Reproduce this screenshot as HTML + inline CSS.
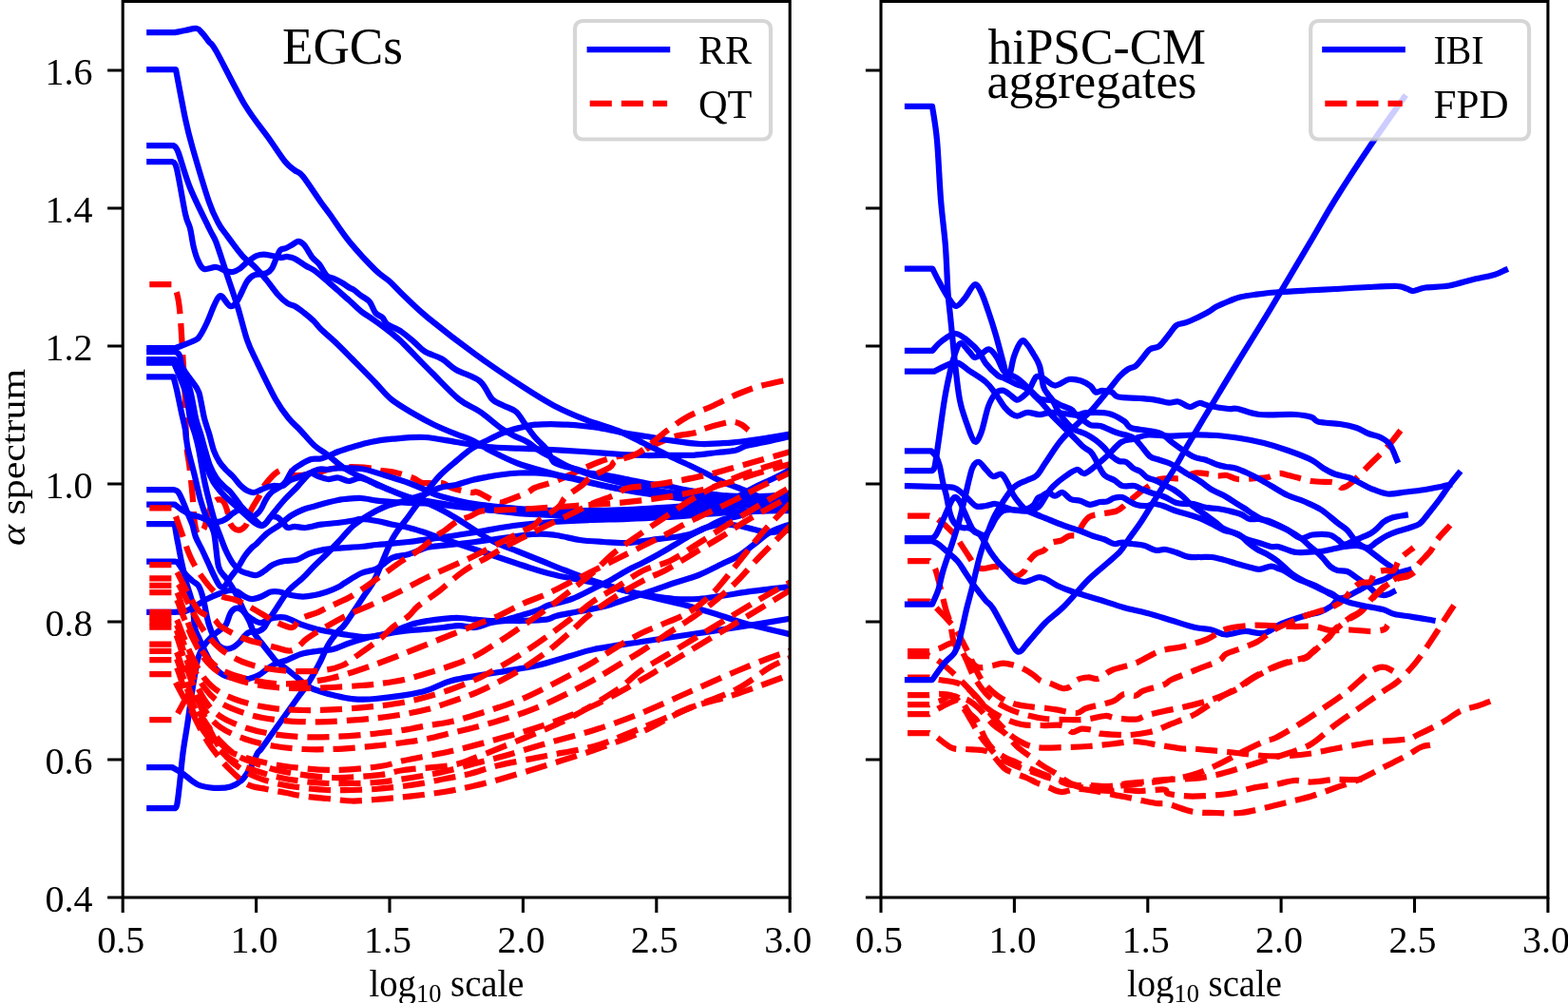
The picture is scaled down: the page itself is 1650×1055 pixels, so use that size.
<!DOCTYPE html>
<html lang="en"><head><meta charset="utf-8"><title>alpha spectrum</title>
<style>html,body{margin:0;padding:0;background:#fff}body{width:1650px;height:1055px;overflow:hidden}svg{display:block}text{font-family:"Liberation Serif","DejaVu Serif",serif;fill:#000}.b{fill:none;stroke:#0000ff;stroke-width:6.25;stroke-linecap:square;stroke-linejoin:round}.r{fill:none;stroke:#ff0000;stroke-width:6.25;stroke-linecap:butt;stroke-linejoin:round;stroke-dasharray:23.1 10}.sp{fill:none;stroke:#000;stroke-width:3.1;stroke-linecap:square;stroke-linejoin:miter}.tk{stroke:#000;stroke-width:3.1;fill:none}</style></head><body>
<svg width="1650" height="1055" viewBox="0 0 1650 1055">
<rect width="1650" height="1055" fill="#fff"/>
<defs>
<clipPath id="clipL"><rect x="129.2" y="1.5" width="702" height="942.5"/></clipPath>
<clipPath id="clipR"><rect x="927" y="1.5" width="701.9" height="942.5"/></clipPath>
</defs>
<g clip-path="url(#clipL)">
<path d="M157.3 299L180.4 299C181.3 300.5 184.5 302.8 186 308C187.5 313.2 188.4 318.4 189.5 330C190.6 341.6 191.6 362.3 192.5 377.5C193.4 392.7 194.4 406.4 195 421C195.6 435.6 195.3 453.9 196 465C196.7 476.1 198.3 482.3 199 487.5C199.7 492.7 199.4 490.6 200 496C200.6 501.4 201.7 510.8 202.5 520C203.3 529.2 203.9 544 205 551C206.1 558 207.3 561.3 209 562C210.7 562.7 213 559.5 215 555C217 550.5 218.9 539.8 221 535C223.1 530.2 225.2 527.2 227.5 526C229.8 524.8 232.9 525.2 235 527.5C237.1 529.8 238.8 536.1 240 540C241.2 543.9 240.8 548.1 242.5 551C244.2 553.9 247.3 557.2 250 557.5C252.7 557.8 256.5 555.8 258.8 552.5C261 549.2 261.5 542.5 263.8 537.5C266 532.5 270 527.1 272.5 522.5C275 517.9 275.4 514.4 278.8 510C282.1 505.6 288.5 498.5 292.5 496C296.5 493.5 299.4 494.3 302.5 495C305.6 495.7 306.4 499.5 311 500C315.6 500.5 322.7 499.3 330 498C337.3 496.7 346.2 493.1 355 492C363.8 490.9 375.2 491.2 383 491.7C390.8 492.2 396.4 494.2 401.7 495C407 495.8 409.4 495.4 415 496.7C420.6 498 430 501.1 435 503C440 504.9 440 507.2 445 508C450 508.8 460 507.2 465 508C470 508.8 470 511.3 475 513C480 514.7 490.3 517.2 495 518C499.7 518.8 498.3 516.3 503 518C507.7 519.7 518 526.5 523 528C528 529.5 527.7 528.4 533 526.7C538.3 525 550 520.3 555 518C560 515.7 558.3 514.9 563 513C567.7 511.1 576 509.4 583 506.7C590 504 597.2 500.4 605 497C612.8 493.6 622.3 488.8 630 486C637.7 483.2 643.9 481.4 651 480C658.1 478.6 667.2 479 672.5 477.5C677.8 476 677.8 473.5 682.5 471C687.2 468.5 696.2 464.5 701 462.5C705.8 460.5 705.8 460 711 458.8C716.2 457.5 727.5 456.3 732.5 455C737.5 453.7 736 452.7 741 451C746 449.3 757.2 446.2 762.5 445C767.8 443.8 769.4 443.4 772.5 443.8C775.6 444.1 778.5 445.5 781 447C783.5 448.5 786.4 451.6 787.5 452.5" class="r"/>
<path d="M157.3 34.2L183.8 34.2C185.6 33.9 191.1 32.7 195 32C198.9 31.3 204 29.5 207 30C210 30.5 210.8 32.7 213 35C215.2 37.3 217.6 40.9 220 44C222.4 47.1 221.2 42.8 227.5 53.8C233.8 64.8 248.3 94.8 257.5 110C266.7 125.2 275.4 135 282.5 145C289.6 155 295.4 164.3 300 170C304.6 175.7 306.9 176.4 310 179C313.1 181.6 314.2 179.9 318.8 185.5C323.3 191.1 332.7 205.8 337.5 212.5C342.3 219.2 342.5 219.1 347.5 226C352.5 232.9 359.6 244.3 367.5 254C375.4 263.7 387.9 277 395 284C402.1 291 405 291.5 410 296C415 300.5 418.3 304.7 425 311C431.7 317.3 437.5 323.8 450 334C462.5 344.2 483.3 360.4 500 372.5C516.7 384.6 536.2 397.7 550 406.7C563.8 415.7 571.9 420.9 583 426.7C594.1 432.5 605.5 437.3 616.7 441.7C627.9 446.1 639.5 448.7 650 453C660.5 457.3 670.8 463 680 467.5C689.2 472 697.2 476.2 705 480C712.8 483.8 720.4 487 726.7 490C733 493 737.5 495.2 743 498C748.5 500.8 754.4 504.2 760 506.7C765.6 509.2 771.2 510.8 776.7 513C782.2 515.2 787.1 517.5 793 520C798.9 522.5 805 525.3 812 528C819 530.7 831.2 534.7 835 536" class="b"/>
<path d="M157.3 73L185 73C186.7 81.7 192.1 111.3 195 125C197.9 138.7 198.3 140.4 202.5 155C206.7 169.6 215.4 199.2 220 212.5C224.6 225.8 227.1 229.4 230 235C232.9 240.6 233.3 240.3 237.5 246C241.7 251.7 250 263.3 255 269C260 274.7 263.3 275.8 267.5 280C271.7 284.2 275.8 289 280 294C284.2 299 288.8 305.8 292.5 310C296.2 314.2 299.4 316.9 302.5 319C305.6 321.1 308.1 320.8 311 322.5C313.9 324.2 316.8 326.5 320 329C323.2 331.5 327.1 334.7 330 337.5C332.9 340.3 333.3 341.9 337.5 346C341.7 350.1 349.6 356.8 355 362C360.4 367.2 363.3 370.2 370 377C376.7 383.8 388.1 395.3 395 402.5C401.9 409.7 405 414.6 411.7 420C418.4 425.4 427.5 430.6 435 435C442.5 439.4 449.2 443.1 456.7 446.7C464.2 450.3 473.3 454 480 456.7C486.7 459.4 490 459.8 496.7 463C503.4 466.2 511.9 471.9 520 476C528 480.1 536.7 484.3 545 487.5C553.3 490.7 562.7 492.9 570 495C577.3 497.1 582.8 498.5 589 500C595.2 501.5 600.2 502.1 607.5 503.8C614.8 505.4 624.2 508.1 632.5 510C640.8 511.9 649.2 513.5 657.5 515C665.8 516.5 674.2 517.5 682.5 518.8C690.8 520 700.2 521.5 707.5 522.5C714.8 523.5 717.2 524.1 726 525C734.8 525.9 747.7 527.5 760 528C772.3 528.5 787.5 528.3 800 528C812.5 527.7 829.2 526.3 835 526" class="b"/>
<path d="M157.3 153L182.5 153C183.3 154.2 184.6 152.6 187.5 160C190.4 167.4 194.6 184.2 200 197.5C205.4 210.8 215.4 230.4 220 240C224.6 249.6 224.6 247.5 227.5 255C230.4 262.5 233.8 273.8 237.5 285C241.2 296.2 246.2 310.4 250 322.5C253.8 334.6 256.7 347.9 260 357.5C263.3 367.1 265 369.6 270 380C275 390.4 284.4 410 290 420C295.6 430 299.4 434.6 303.8 440C308.1 445.4 311.5 447.7 316 452.5C320.5 457.3 326.2 464.4 331 468.8C335.8 473.1 339.7 474.7 345 478.8C350.3 482.8 357.2 489.2 363 493C368.8 496.8 373 498.4 380 501.7C387 505 396.7 509.4 405 513C413.3 516.5 421.7 519.9 430 523C438.3 526.1 446.7 528 455 531.7C463.3 535.4 472.5 540.6 480 545C487.5 549.4 493.3 553.8 500 558C506.7 562.2 512.5 566.3 520 570C527.5 573.7 536.7 576.7 545 580C553.3 583.3 561.7 586.7 570 590C578.3 593.3 585.5 596.4 595 600C604.5 603.6 615.9 608.1 626.7 611.7C637.5 615.3 649 618.7 660 621.7C671 624.8 681.9 627.3 693 630C704.1 632.7 715.5 635 726.7 638C737.9 641 750.3 645 760 648C769.7 651 772.5 652.7 785 656C797.5 659.3 826.7 666 835 668" class="b"/>
<path d="M157.3 170L181 170C181.8 171.2 183.7 168.3 186 177.5C188.3 186.7 192.7 214.6 195 225C197.3 235.4 198.5 234.2 200 240C201.5 245.8 202.3 254.2 203.8 260C205.2 265.8 206.9 271.2 208.8 275C210.6 278.8 211.9 282 215 283C218.1 284 223.8 280.7 227.5 281C231.2 281.3 234.6 284.2 237.5 285C240.4 285.8 242.5 286.4 245 286C247.5 285.6 249.8 284.3 252.5 282.5C255.2 280.7 258.1 277.2 261 275C263.9 272.8 267.2 270.2 270 269C272.8 267.8 274.8 267.5 277.5 267.5C280.2 267.5 283.1 268.4 286 269C288.9 269.6 292.2 270.8 295 271C297.8 271.2 300 269.8 302.5 270C305 270.2 306.7 270.3 310 272C313.3 273.7 319.2 278 322.5 280C325.8 282 326.7 281.7 330 284C333.3 286.3 338.3 290.5 342.5 294C346.7 297.5 350.8 301.3 355 305C359.2 308.7 363.3 312.2 367.5 316C371.7 319.8 375.8 324.2 380 327.5C384.2 330.8 388.3 333.1 392.5 336C396.7 338.9 400.8 341.8 405 345C409.2 348.2 414.2 352.2 417.5 355C420.8 357.8 418.8 355.8 425 362C431.2 368.2 445.3 382.8 455 392.5C464.7 402.2 474.7 413.2 483 420C491.3 426.8 497.7 428 505 433C512.3 438 520.9 445.8 526.7 450C532.5 454.2 535.3 455.5 540 458C544.7 460.5 550.7 462.5 555 465C559.3 467.5 561.8 470.3 566 473C570.2 475.7 574.9 478.2 580 481C585.1 483.8 590 487 596.7 490C603.4 493 611.1 496.2 620 499C628.9 501.8 640 504.5 650 507C660 509.5 667.3 511.7 680 514C692.7 516.3 712.7 519.2 726 521C739.3 522.8 747.7 524.2 760 525C772.3 525.8 787.5 526.3 800 526C812.5 525.7 829.2 523.5 835 523" class="b"/>
<path d="M157.3 366L185 366C188.3 364.7 200.8 360 205 358C209.2 356 207.9 356.8 210 353.8C212.1 350.8 215 345.3 217.5 340C220 334.7 222.9 326.6 225 322C227.1 317.4 228.5 314.2 230 312.5C231.5 310.8 231.7 310.4 233.8 312C235.8 313.6 239.8 321.3 242.5 322C245.2 322.7 247.1 320.3 250 316C252.9 311.7 257.1 300.4 260 296C262.9 291.6 264.2 290.8 267.5 289.4C270.8 288 276.9 288.6 280 287.5C283.1 286.4 284.2 285.2 286 282.5C287.8 279.8 289.5 274.2 291 271C292.5 267.8 293.3 264.7 295 263C296.7 261.3 298.9 261.9 301 261C303.1 260.1 305.4 258.7 307.5 257.5C309.6 256.3 311.7 253.8 313.8 253.8C315.8 253.8 317.5 254.6 320 257.5C322.5 260.4 326.1 267.6 328.8 271C331.4 274.4 333.5 274.8 336 278C338.5 281.2 341.4 287.6 343.8 290C346.1 292.4 347.3 291.2 350 292.5C352.7 293.8 357.1 295.8 360 297.5C362.9 299.2 365.4 301.2 367.5 302.5C369.6 303.8 370.4 303.6 372.5 305C374.6 306.4 377.2 308.9 380 311C382.8 313.1 386.5 314.5 389 317.5C391.5 320.5 392.8 326.2 395 329C397.2 331.8 400.4 332 402.5 334C404.6 336 404.2 338.5 407.5 341C410.8 343.5 417.8 345.8 422.5 349C427.2 352.2 431.8 356.5 436 360C440.2 363.5 442.7 367.1 447.5 370C452.3 372.9 459.6 374.3 465 377.5C470.4 380.7 473.3 385.1 480 389C486.7 392.9 498.7 395.8 505 401C511.3 406.2 513.8 415.7 518 420C522.2 424.3 525.8 424.5 530 426.7C534.2 428.9 539.2 429.7 543 433C546.8 436.3 549.7 442.2 553 446.7C556.3 451.2 559.7 456.1 563 460C566.3 463.9 570.6 467.3 573 470C575.4 472.7 575.9 473.3 577.5 476C579.1 478.7 580 483.7 582.5 486C585 488.3 588.3 488.7 592.5 490C596.7 491.3 602.9 492.5 607.5 493.8C612.1 495 614.8 496.5 620 497.5C625.2 498.5 632.8 499 639 500C645.2 501 650.2 502.3 657.5 503.8C664.8 505.2 675.2 507.5 682.5 508.8C689.8 510 693.8 509.8 701 511C708.2 512.2 716.2 514.3 726 516C735.8 517.7 747.7 520 760 521C772.3 522 787.5 522.2 800 522C812.5 521.8 829.2 520.3 835 520" class="b"/>
<path d="M157.3 370L185 370C185.7 370.7 187.8 371.1 189 374C190.2 376.9 189.4 381.7 192.5 387.5C195.6 393.3 204.4 403.6 207.5 409C210.6 414.4 209.8 414.8 211 420C212.2 425.2 213.5 434 215 440C216.5 446 218.3 450.3 220 456C221.7 461.7 223.2 469 225 474C226.8 479 228.9 482.7 231 486C233.1 489.3 235.2 491.5 237.5 494C239.8 496.5 242.5 498.3 245 501C247.5 503.7 250 507.5 252.5 510C255 512.5 257.5 514.7 260 516C262.5 517.3 265 518.2 267.5 518C270 517.8 272.8 515.9 275 515C277.2 514.1 278.9 513.2 281 512.5C283.1 511.8 284.8 511.2 287.5 511C290.2 510.8 294.8 511.8 297.5 511C300.2 510.2 301.5 507.4 304 506C306.5 504.6 309.4 503.7 312.5 502.5C315.6 501.3 320 499.8 322.5 499C325 498.2 325.4 497.2 327.5 497.5C329.6 497.8 332.1 499.9 335 501C337.9 502.1 341.5 503.8 345 504C348.5 504.2 352.4 502.2 356 502.5C359.6 502.8 362.7 505.9 366.7 506C370.7 506.1 375 502.3 380 503C385 503.7 391.2 507.7 396.7 510C402.2 512.3 407.4 514.5 413 516.7C418.6 518.9 424.4 521.3 430 523C435.6 524.7 438.4 525.2 446.7 526.7C455 528.2 467.8 530.3 480 532C492.2 533.7 506.7 535.5 520 537C533.3 538.5 545 540.2 560 541C575 541.8 593.3 542 610 542C626.7 542 643.3 541.7 660 541C676.7 540.3 693.3 539.2 710 538C726.7 536.8 745 535.3 760 534C775 532.7 787.5 531.2 800 530C812.5 528.8 829.2 527.5 835 527" class="b"/>
<path d="M157.3 378L184 378C185.4 380.4 189.8 387.2 192.5 392.5C195.2 397.8 197.8 402.1 200 410C202.2 417.9 204.2 432.3 206 440C207.8 447.7 209.3 450.3 211 456C212.7 461.7 214.3 468.3 216 474C217.7 479.7 219.1 485.2 221 490C222.9 494.8 225.2 499 227.5 502.5C229.8 506 232.5 508.5 235 511C237.5 513.5 240 514.8 242.5 517.5C245 520.2 247.8 524.6 250 527.5C252.2 530.4 253.5 532.4 256 535C258.5 537.6 262.5 542.2 265 543C267.5 543.8 269.3 541.3 271 540C272.7 538.7 273.5 537.5 275 535C276.5 532.5 278.2 527.9 280 525C281.8 522.1 283.7 519.6 286 517.5C288.3 515.4 291.7 514.2 294 512.5C296.3 510.8 297.8 510.4 300 507.5C302.2 504.6 304.8 498.1 307.5 495C310.2 491.9 312.7 490.8 316 488.8C319.3 486.8 323.9 484 327.5 483C331.1 482 334.2 483.2 337.5 482.5C340.8 481.8 344.4 480 347.5 478.8C350.6 477.5 352 476.5 356 475C360 473.5 366 471.7 371.7 470C377.4 468.3 383.1 466.4 390 465C396.9 463.6 403.6 462.5 413 461.7C422.4 460.9 435.5 459.4 446.7 460C457.9 460.6 468.9 463.3 480 465C491.1 466.7 501.9 468.9 513 470C524.1 471.1 535.5 471.2 546.7 471.7C557.9 472.2 569 472.4 580 473C591 473.6 600.5 474.2 613 475C625.5 475.8 643.8 477.3 655 478C666.2 478.7 671.7 478.9 680 479C688.3 479.1 696.7 478.8 705 478.8C713.3 478.7 721.7 479.2 730 478.8C738.3 478.3 747.7 476.8 755 476C762.3 475.2 768.6 475 773.8 473.8C778.9 472.5 780.8 470.2 786 468.8C791.2 467.3 796.8 466.8 805 465C813.2 463.2 830 459.2 835 458" class="b"/>
<path d="M157.3 381.6L183 381.6C184 384 186.8 390.4 189 396C191.2 401.6 194.2 407.7 196 415C197.8 422.3 198.5 433.2 200 440C201.5 446.8 203.5 450.7 205 456C206.5 461.3 207.2 463 209 472C210.8 481 213.3 497.8 216 510C218.7 522.2 222.5 536.3 225 545C227.5 553.7 228.9 556.4 231 562C233.1 567.6 235.2 573.7 237.5 578.8C239.8 583.8 242.5 589 245 592.5C247.5 596 249.6 598.1 252.5 600C255.4 601.9 259.6 602.9 262.5 603.8C265.4 604.6 267.5 605.5 270 605C272.5 604.5 274.6 602.9 277.5 601C280.4 599.1 283.8 595.6 287.5 593.8C291.2 591.9 295.8 590.8 300 590C304.2 589.2 308.3 590 312.5 588.8C316.7 587.5 320.8 584.2 325 582.5C329.2 580.8 332.5 579.7 337.5 578.8C342.5 577.8 347.9 577.3 355 576.7C362.1 576.1 373.1 575.6 380 575C386.9 574.4 391.2 573.5 396.7 573C402.2 572.5 407.4 572.2 413 571.7C418.6 571.2 423 570.8 430 570C437 569.2 443.3 568.4 455 566.7C466.7 565 485.8 562.3 500 560C514.2 557.7 526.7 554.8 540 553C553.3 551.2 566.7 550 580 549C593.3 548 606.7 547.5 620 547C633.3 546.5 646.7 546.5 660 546C673.3 545.5 686.7 544.8 700 544C713.3 543.2 726.7 542 740 541C753.3 540 764.2 539.3 780 538C795.8 536.7 825.8 533.8 835 533" class="b"/>
<path d="M157.3 396.4L182.5 396.4C183.1 398.7 184.6 403.7 186 410C187.4 416.3 189.5 427 191 434C192.5 441 193.9 445.8 195 452C196.1 458.2 195.8 462.8 197.5 471C199.2 479.2 202.8 491.8 205 501C207.2 510.2 208.9 518.7 211 526C213.1 533.3 215.2 539.3 217.5 545C219.8 550.7 222.9 551.5 225 560C227.1 568.5 227.9 588.1 230 596C232.1 603.9 235 603.7 237.5 607.5C240 611.3 242.8 615 245 618.8C247.2 622.5 249.2 626.3 251 630C252.8 633.7 254.1 637 256 641C257.9 645 260.6 649.6 262.5 653.8C264.4 657.9 265.4 662.3 267.5 666C269.6 669.7 272.1 672.2 275 676C277.9 679.8 282.3 685.4 285 688.8C287.7 692.1 288.5 693.7 291 696C293.5 698.3 296.4 699.8 300 702.5C303.6 705.2 308.3 709.2 312.5 712.5C316.7 715.8 320.8 720 325 722.5C329.2 725 333.3 726.1 337.5 727.5C341.7 728.9 344.6 729.8 350 731C355.4 732.2 362.5 734.3 370 735C377.5 735.7 382.5 736.2 395 735C407.5 733.8 431.7 730.7 445 727.5C458.3 724.3 461.7 719.4 475 716C488.3 712.6 510 709.7 525 707C540 704.3 552.5 702.8 565 700C577.5 697.2 590 692.8 600 690C610 687.2 612.5 685.5 625 683C637.5 680.5 658.3 677.6 675 675C691.7 672.4 708.3 670 725 667.5C741.7 665 756.5 662.9 775 660C793.5 657.1 825.8 651.7 836 650" class="b"/>
<path d="M157.3 380L183.5 380C184.7 382.3 188.1 388.7 190.5 394C192.9 399.3 195.9 404.3 198 412C200.1 419.7 201.3 432.7 203 440C204.7 447.3 206.4 450.5 208 456C209.6 461.5 210.8 467 212.5 473C214.2 479 216.1 486.5 218 492C219.9 497.5 221.7 501.8 224 506C226.3 510.2 229.3 513.8 232 517C234.7 520.2 237 522.2 240 525C243 527.8 246.7 531 250 534C253.3 537 257 540.3 260 543C263 545.7 265.5 548.3 268 550C270.5 551.7 273 553 275 553C277 553 277.9 552.2 280 550C282.1 547.8 284.2 544.2 287.5 540C290.8 535.8 295.8 529.6 300 525C304.2 520.4 308.3 516.9 312.5 512.5C316.7 508.1 321.2 501.9 325 498.8C328.8 495.6 331.7 494.6 335 493.8C338.3 492.9 341.5 494 345 493.8C348.5 493.5 350.2 492.6 356 492.5C361.8 492.4 371.8 491.8 380 493C388.2 494.2 396.7 497.5 405 500C413.3 502.5 423.1 505.5 430 508C436.9 510.5 441.2 512.7 446.7 515C452.2 517.3 454.1 519.2 463 521.7C471.9 524.2 483.8 527.6 500 530C516.2 532.4 541.7 534.8 560 536C578.3 537.2 593.3 537 610 537C626.7 537 643.3 536.7 660 536C676.7 535.3 693.3 534 710 533C726.7 532 745 531.5 760 530C775 528.5 787.5 526 800 524C812.5 522 829.2 519 835 518" class="b"/>
<path d="M157.3 515L182.5 515C183.3 515.4 185.8 515.4 187.5 517.5C189.2 519.6 190.8 523.8 192.5 527.5C194.2 531.2 195.8 535.9 197.5 540C199.2 544.1 201.1 547.8 202.5 552C203.9 556.2 204.3 560.7 206 565C207.7 569.3 210.3 573.5 212.5 578C214.7 582.5 216.9 587.5 219 592C221.1 596.5 223 601 225 605C227 609 229.2 614 231 616C232.8 618 234.1 618.4 236 617C237.9 615.6 240.2 610.8 242.5 607.5C244.8 604.2 247.5 601.2 250 597.5C252.5 593.8 255 588.6 257.5 585C260 581.4 262.9 578.2 265 576C267.1 573.8 267.3 574.5 270 572C272.7 569.5 277 564.2 281 561C285 557.8 289.8 555.6 294 552.5C298.2 549.4 301.8 545.2 306 542.5C310.2 539.8 314.8 537.7 319 536C323.2 534.3 326.8 533.7 331 532.5C335.2 531.3 339.8 529.8 344 528.8C348.2 527.7 352.8 526.6 356 526C359.2 525.4 359 525.3 363 525C367 524.7 374.4 523.7 380 524C385.6 524.3 391.2 526 396.7 526.7C402.2 527.4 407.4 527.6 413 528C418.6 528.4 423 528.7 430 529C437 529.3 443.3 529 455 530C466.7 531 482.5 533.3 500 535C517.5 536.7 541.7 538.5 560 540C578.3 541.5 593.3 543.2 610 544C626.7 544.8 643.3 545.3 660 545C676.7 544.7 695.8 543.5 710 542C724.2 540.5 735 538.7 745 536C755 533.3 762 529.8 770 526C778 522.2 786.3 516.5 793 513C799.7 509.5 804.4 507.7 810 505C815.6 502.3 822.5 499.2 826.7 496.7C830.9 494.2 833.6 491.1 835 490" class="b"/>
<path d="M157.3 530.6L183.8 530.6C185 531.5 188.3 534.3 191 536C193.7 537.7 196.8 539.7 200 541C203.2 542.3 206.7 542.7 210 543.8C213.3 544.8 216.7 546.7 220 547.5C223.3 548.3 227.1 549 230 548.8C232.9 548.5 235 547.5 237.5 546C240 544.5 242.5 541.7 245 540C247.5 538.3 250 536.2 252.5 536C255 535.8 257.5 537.1 260 538.8C262.5 540.4 265 543.7 267.5 546C270 548.3 272.9 551.8 275 552.5C277.1 553.2 278.3 551.5 280 550C281.7 548.5 283.2 544.8 285 543.8C286.8 542.7 289.2 543.1 291 543.8C292.8 544.4 294.1 545.6 296 547.5C297.9 549.4 300.2 554 302.5 555C304.8 556 306.8 553.8 310 553.8C313.2 553.8 317 555.3 321.7 555C326.4 554.7 332.4 552.5 338 551.7C343.6 550.9 349.4 550.7 355 550C360.6 549.3 367.5 548.2 371.7 547.5C375.9 546.8 375.8 545.9 380 546C384.2 546.1 391.2 547 396.7 548C402.2 549 407.4 550.5 413 551.7C418.6 552.9 424.4 553.6 430 555C435.6 556.4 442.5 558.7 446.7 560C450.9 561.3 446.7 560 455 563C463.9 566 482.5 572.2 500 578C517.5 583.8 545.8 593.5 560 598C574.2 602.5 576.7 603 585 605C593.3 607 601.7 608.3 610 610C618.3 611.7 626.7 613 635 615C643.3 617 651.7 619.8 660 621.7C668.3 623.7 676.7 625.3 685 626.7C693.3 628.1 701.7 629.5 710 630C718.3 630.5 726.7 630.5 735 630C743.3 629.5 750.3 628.1 760 626.7C769.7 625.3 780.5 623.4 793 621.7C805.5 620 828 617.5 835 616.7" class="b"/>
<path d="M157.3 551.2L183.8 551.2C184.1 553.5 185.4 561.5 186 565C186.6 568.5 186.7 568.2 187.5 572.5C188.3 576.8 189.6 584.3 191 591C192.4 597.7 194.1 605.2 196 612.5C197.9 619.8 201 627.1 202.5 635C204 642.9 203.8 653.8 205 660C206.2 666.2 207.9 667.7 210 672.5C212.1 677.3 215 684 217.5 688.8C220 693.5 222.1 697.5 225 701C227.9 704.5 230.8 707.9 235 710C239.2 712.1 245.4 713.1 250 713.8C254.6 714.4 258.8 714.4 262.5 713.8C266.2 713.1 269.4 711.7 272.5 710C275.6 708.3 277.9 705.8 281 703.8C284.1 701.7 287.8 699 291 697.5C294.2 696 295.7 696.6 300 695C304.3 693.4 311.2 689.7 316.7 688C322.2 686.3 327.4 685.8 333 685C338.6 684.2 344.4 684.4 350 683C355.6 681.6 361.2 678.6 366.7 676.7C372.2 674.8 377.4 673.2 383 671.7C388.6 670.2 394.4 669.1 400 668C405.6 666.9 411.2 665.8 416.7 665C422.2 664.2 427.4 663.5 433 663C438.6 662.5 444.4 662.2 450 661.7C455.6 661.2 461.2 660.6 466.7 660C472.2 659.4 477.4 658 483 658C488.6 658 494.4 660.5 500 660C505.6 659.5 511.2 656.2 516.7 655C522.2 653.8 527.5 653.3 533 653C538.5 652.7 543 653.2 550 653C557 652.8 569.2 652.5 575 651.7C580.8 650.9 579.2 649.5 585 648C590.8 646.5 601.7 644.7 610 643C618.3 641.3 626.7 640.2 635 638C643.3 635.8 651.7 632.7 660 630C668.3 627.3 676.7 624.5 685 621.7C693.3 618.9 701.7 615.8 710 613C718.3 610.2 726.7 608.3 735 605C743.3 601.7 753 596.3 760 593C767 589.7 771.2 588.3 776.7 585C782.2 581.7 787.5 577.2 793 573C798.5 568.8 804.4 563.3 810 560C815.6 556.7 822.5 554.4 826.7 553C830.9 551.6 833.6 551.9 835 551.7" class="b"/>
<path d="M157.3 590.6L183.8 590.6C184.4 590.9 185.6 590.3 187.5 592.5C189.4 594.7 192.5 600.7 195 603.8C197.5 606.8 200.2 609 202.5 611C204.8 613 207.1 613.7 208.8 616C210.4 618.3 211.5 621.8 212.5 625C213.5 628.2 214.2 631.7 215 635C215.8 638.3 216.2 641.2 217 645C217.8 648.8 218.7 653.3 220 657.5C221.3 661.7 223.3 666.5 225 670C226.7 673.5 227.9 676.7 230 678.8C232.1 680.8 235 682.1 237.5 682.5C240 682.9 242.5 682.2 245 681C247.5 679.8 250.4 677 252.5 675C254.6 673 255.8 670.4 257.5 668.8C259.2 667.1 260 665.8 262.5 665C265 664.2 269.9 664.6 272.5 663.8C275.1 662.9 276.6 661.5 278 660C279.4 658.5 279.4 657.5 281 655C282.6 652.5 285.3 648.3 287.5 645C289.7 641.7 291.9 638.2 294 635C296.1 631.8 298 628.7 300 626C302 623.3 302.8 621.8 306 618.8C309.2 615.7 314.8 611.5 319 607.5C323.2 603.5 326.8 599.2 331 595C335.2 590.8 339.8 586.7 344 582.5C348.2 578.3 351.4 574.9 356 570C360.6 565.1 366.4 557.7 371.7 553C377 548.3 382.4 545 388 541.7C393.6 538.4 399.4 535.3 405 533C410.6 530.7 414.8 530.2 421.7 528C428.6 525.8 439.8 522.5 446.7 520C453.6 517.5 457.4 514.7 463 513C468.6 511.3 474.4 511.3 480 510C485.6 508.7 491.2 506.4 496.7 505C502.2 503.6 507.4 502.7 513 501.7C518.5 500.7 524.4 499.7 530 499C535.6 498.3 541.2 497.8 546.7 497.5C552.2 497.2 557.5 497.2 563 497.5C568.5 497.8 573.8 498.1 580 499C586.2 499.9 591.7 501.2 600 503C608.3 504.8 620 507.8 630 510C640 512.2 648.3 514 660 516C671.7 518 686.7 520.2 700 522C713.3 523.8 726.7 525.7 740 527C753.3 528.3 764.2 529.5 780 530C795.8 530.5 825.8 530 835 530" class="b"/>
<path d="M157.3 643.8L183.8 643.8C185.6 643.6 191.5 644 195 643C198.5 642 201.2 640.2 205 638C208.8 635.8 213.5 632.3 218 630C222.5 627.7 228 625.5 232 624C236 622.5 239 621.2 242 621C245 620.8 247.4 621.4 250 622.5C252.6 623.6 255 626.2 257.5 627.5C260 628.8 262.1 630 265 630C267.9 630 271.7 628.8 275 627.5C278.3 626.2 281.8 623.3 285 622.5C288.2 621.7 290.5 621.9 294 622.5C297.5 623.1 301.8 625.2 306 626C310.2 626.8 314.8 627.5 319 627.5C323.2 627.5 326.8 626.8 331 626C335.2 625.2 339.8 623.9 344 622.5C348.2 621.1 352.8 619.1 356 617.5C359.2 615.9 359 615.4 363 613C367 610.6 374.4 605.5 380 603C385.6 600.5 391.2 600.7 396.7 598C402.2 595.3 407.4 589.2 413 586.7C418.6 584.2 424.4 584.7 430 583C435.6 581.3 442.5 578 446.7 576.7C450.9 575.4 446.7 576.1 455 575C463.9 573.9 482.5 572.2 500 570C517.5 567.8 545.8 563.2 560 562C574.2 560.8 576.7 562 585 563C593.3 564 601.7 566.8 610 568C618.3 569.2 626.7 569.5 635 570C643.3 570.5 651.7 571.3 660 571C668.3 570.7 676.7 569 685 568C693.3 567 703 566 710 565C717 564 721.2 563.4 726.7 561.7C732.2 560 737.5 556.7 743 555C748.5 553.3 754.4 552 760 551.7C765.6 551.4 771.2 552.2 776.7 553C782.2 553.8 787.5 555.5 793 556.7C798.5 557.9 803 560 810 560C817 560 830.8 557.2 835 556.7" class="b"/>
<path d="M157.3 807L181 807C182.9 808.1 188.1 810.8 192.5 813.8C196.9 816.8 202.1 822.5 207.5 825C212.9 827.5 219.2 828.3 225 828.8C230.8 829.2 237.5 829 242.5 827.5C247.5 826 251.2 823.8 255 820C258.8 816.2 262.3 809.7 265 805C267.7 800.3 269.3 794.9 271 792C272.7 789.1 272.2 791.2 275 787.5C277.8 783.8 283.3 775.8 287.5 770C291.7 764.2 295.8 758.3 300 752.5C304.2 746.7 308.3 740.8 312.5 735C316.7 729.2 320.8 724.2 325 717.5C329.2 710.8 334.2 701.5 337.5 695C340.8 688.5 341.9 684 345 678.8C348.1 673.5 353 667.4 356 663.8C359 660.1 358.5 662.9 363 656.7C367.5 650.5 377.7 634.8 383 626.7C388.3 618.6 390 618 395 608C400 598 407.2 577.5 413 566.7C418.8 555.9 424.4 550.8 430 543C435.6 535.2 441.2 527.2 446.7 520C452.2 512.8 457.4 505.8 463 500C468.6 494.2 474.4 489.7 480 485C485.6 480.3 491.2 475.4 496.7 471.7C502.2 468 507.4 465.8 513 463C518.5 460.2 524.4 457.2 530 455C535.6 452.8 541.2 451.4 546.7 450C552.2 448.6 557.5 447.4 563 446.7C568.5 446 574.4 446 580 446C585.6 446 591.2 446.4 596.7 446.7C602.2 447 607.5 447.4 613 448C618.5 448.6 623 448.8 630 450C637 451.2 646.7 453.5 655 455C663.3 456.5 672.5 457.8 680 459C687.5 460.2 690.4 461.2 700 462.5C709.6 463.8 725 466.6 737.5 467C750 467.4 763.8 466 775 465C786.2 464 795 462.5 805 461C815 459.5 830 456.8 835 456" class="b"/>
<path d="M157.3 850L182.5 850C183.1 849.6 184.9 851.7 186 847.5C187.1 843.3 187.9 834.2 189 825C190.1 815.8 191.1 802.8 192.5 792C193.9 781.2 196.1 769.5 197.5 760C198.9 750.5 199.8 743.3 201 735C202.2 726.7 203.7 717.3 205 710C206.3 702.7 207.1 696.2 208.8 691C210.4 685.8 212.7 682.2 215 678.8C217.3 675.2 220 672.5 222.5 670C225 667.5 227.5 665.8 230 663.8C232.5 661.7 235.4 660.6 237.5 657.5C239.6 654.4 240.8 647.9 242.5 645C244.2 642.1 245.6 640.7 247.5 640C249.4 639.3 251.7 639.8 253.8 641C255.8 642.2 257.7 645.6 260 647.5C262.3 649.4 265 651.2 267.5 652.5C270 653.8 271.7 655.4 275 655C278.3 654.6 283.3 650.9 287.5 650C291.7 649.1 295.1 648.4 300 649.5C304.9 650.6 311.2 654.7 316.7 656.7C322.2 658.7 327.4 660.3 333 661.7C338.6 663.1 344.4 664 350 665C355.6 666 361.2 667.2 366.7 668C372.2 668.8 377.4 670 383 670C388.6 670 394.4 669.2 400 668C405.6 666.8 411.2 664.9 416.7 663C422.2 661.1 427.4 658.4 433 656.7C438.6 655 444.4 654 450 653C455.6 652 461.2 651.3 466.7 650.8C472.2 650.3 477.4 649.9 483 650C488.6 650.1 494.4 651.2 500 651.7C505.6 652.2 511.2 653 516.7 653C522.2 653 527.5 652.8 533 651.7C538.5 650.7 544.4 648.4 550 646.7C555.6 645 562.2 643.4 566.7 641.7C571.2 640 570.9 638.7 576.7 636.7C582.5 634.8 593.4 633.1 601.7 630C610 626.9 619.8 621.3 626.7 618C633.6 614.7 637.5 613 643 610C648.5 607 654.4 603 660 600C665.6 597 671.2 594.5 676.7 591.7C682.2 588.9 687.5 586.1 693 583C698.5 579.9 704.4 576.3 710 573C715.6 569.7 721.2 566 726.7 563C732.2 560 737.5 557.7 743 555C748.5 552.3 754.4 548.7 760 546.7C765.6 544.7 771.2 544.5 776.7 543C782.2 541.5 783.3 539 793 538C802.7 537 828 537.2 835 537" class="b"/>
<path d="M157.3 534.4L180.4 534.4C181 535.3 182 535.7 183.8 540C185.5 544.3 188.3 552.5 191 560C193.7 567.5 196.5 577.3 200 585C203.5 592.7 207.2 599.3 212 606C216.8 612.7 222.8 620.8 228.8 625C234.7 629.2 242.5 629.2 247.5 631C252.5 632.8 254 633.5 258.8 636C263.5 638.5 270.8 643 276 646C281.2 649 284.8 651.7 290 654C295.2 656.3 303.2 660.5 307.5 660C311.8 659.5 311.4 653.7 316 651C320.6 648.3 330.2 645.8 335 643.8C339.8 641.7 341.5 640.4 345 638.8C348.5 637.1 351.8 635.7 356 633.8C360.2 631.8 363.5 631 370 627C376.5 623 386.2 616.2 395 610C403.8 603.8 415.2 595.3 423 590C430.8 584.7 435.5 582.5 441.7 578C447.9 573.5 455.6 566.3 460 563C464.4 559.7 464.4 560.5 468 558C471.6 555.5 477.2 550.5 481.7 548C486.2 545.5 491.1 544.7 495 543C498.9 541.3 501.4 539 505 538C508.6 537 510.9 537 516.7 536.7C522.5 536.4 532.8 536.3 540 536C547.2 535.7 551.7 535.5 560 535C568.3 534.5 580 533.7 590 533C600 532.3 610 531.7 620 531C630 530.3 636.7 530.3 650 529C663.3 527.7 685 525.3 700 523C715 520.7 727.5 518 740 515C752.5 512 765 508 775 505C785 502 789.8 500 800 497C810.2 494 830 488.7 836 487" class="r"/>
<path d="M157.3 594L180.4 594C181.2 594.8 183 595.7 185 599C187 602.3 190 609.2 192.5 614C195 618.8 197.1 623.2 200 628C202.9 632.8 205.8 639.2 210 643C214.2 646.8 221.2 648.3 225 651C228.8 653.7 227.5 655.7 232.5 659C237.5 662.3 247.9 668 255 671C262.1 674 269.2 675.3 275 677C280.8 678.7 285 679.8 290 681C295 682.2 301 684.7 305 684.5C309 684.3 311.2 682 314 680C316.8 678 318.5 675.2 322 672.5C325.5 669.8 329.3 667.4 335 664C340.7 660.6 350.2 655.2 356 652C361.8 648.8 362.7 648.3 370 645C377.3 641.7 390.8 636.2 400 632C409.2 627.8 416.7 624.2 425 620C433.3 615.8 439.5 612 450 607C460.5 602 478.6 594.3 488 590C497.4 585.7 499.7 584.5 506.7 581C513.7 577.5 523.6 572.3 530 569C536.4 565.7 539.7 563.7 545 561C550.3 558.3 557.9 555.4 561.7 553C565.5 550.6 563.6 550 568 546.7C572.4 543.4 583.5 537 588 533C592.5 529 590.8 526.8 595 523C599.2 519.2 608.5 513.5 613 510C617.5 506.4 616.9 504.8 621.7 501.7C626.5 498.6 637.3 494.5 641.7 491.7C646.1 488.9 642.9 487.6 648 485C653.1 482.4 663.4 481.4 672.5 476C681.6 470.6 693.8 458.9 702.5 452.5C711.2 446.1 717.1 441.8 725 437.5C732.9 433.2 741.7 430.8 750 427C758.3 423.2 766.7 418.5 775 415C783.3 411.5 789.8 408.8 800 406C810.2 403.2 830 399.3 836 398" class="r"/>
<path d="M157.3 608.4L180.4 608.4C181.3 609 183.9 609.4 186 612C188.1 614.6 190.3 619 193 624C195.7 629 198.3 635.3 202 642C205.7 648.7 209.9 657.2 215 664C220.1 670.8 225.8 677.7 232.5 683C239.2 688.3 247.1 692.7 255 696C262.9 699.3 270.8 701.3 280 703C289.2 704.7 300 705.7 310 706C320 706.3 331.7 706 340 705C348.3 704 353.7 702.8 360 700C366.3 697.2 371.3 692.7 378 688C384.7 683.3 394.2 676.7 400 672C405.8 667.3 408 664 413 660C418 656 425.5 651.8 430 648C434.5 644.2 434.8 641.8 440 637.5C445.2 633.2 453.1 628.6 461 622.5C468.9 616.4 478.5 607.2 487.5 601C496.5 594.8 507.5 589.4 515 585C522.5 580.6 526.7 577.8 532.5 574.5C538.3 571.2 542.9 569.1 550 565.5C557.1 561.9 566.7 557.1 575 553C583.3 548.9 592.5 544.7 600 541C607.5 537.3 615.2 533.2 620 531C624.8 528.8 624 529.3 628.8 527.5C633.5 525.7 643.8 522.3 648.8 520C653.8 517.7 653.5 515.2 658.8 513.8C664 512.2 674 511.8 680 511C686 510.2 689.6 509.6 695 508.8C700.4 507.9 703.3 507.8 712.5 506C721.7 504.2 735.4 501.7 750 498C764.6 494.3 785.7 488 800 484C814.3 480 830 475.7 836 474" class="r"/>
<path d="M157.3 623L180.4 623C181.3 624.3 183.9 626.4 186 630.6C188.1 634.9 190.3 642 193 648.5C195.7 655 198.3 662.4 202 669.8C205.7 677.2 210 686.3 215 692.7C220 699.1 224.5 703.8 232 708C239.5 712.2 250.3 715.5 260 718C269.7 720.5 280 722 290 723C300 724 310 724 320 724C330 724 340 723.5 350 723C360 722.5 371.7 721.7 380 721C388.3 720.3 392.5 720 400 719C407.5 718 416.7 716.8 425 715C433.3 713.2 441.7 710.5 450 708C458.3 705.5 466.7 703 475 700C483.3 697 491.7 694.2 500 690C508.3 685.8 517.3 679.8 525 675C532.7 670.2 538.1 666.4 546 661C553.9 655.6 563.7 648.9 572.5 642.5C581.3 636.1 590.2 629.2 598.8 622.5C607.3 615.8 616 609.2 623.8 602.5C631.5 595.8 636.9 589.2 645 582.5C653.1 575.8 663.3 569 672.5 562.5C681.7 556 691.2 549.7 700 543.8C708.8 537.8 716.7 532.1 725 527C733.3 521.9 741.7 517.2 750 513C758.3 508.8 766.7 505.3 775 502C783.3 498.7 789.8 496.3 800 493C810.2 489.7 830 483.8 836 482" class="r"/>
<path d="M157.3 615.8L180.4 615.8C181.3 616.8 183.9 617.8 186 622C188.1 626.2 190.3 633.8 193 641C195.7 648.2 198.3 657.2 202 665C205.7 672.8 210 681.5 215 688C220 694.5 224.5 699.7 232 704C239.5 708.3 250.3 711.5 260 714C269.7 716.5 280 718.3 290 719C300 719.7 310 719 320 718C330 717 340 715.3 350 713C360 710.7 371.7 706.7 380 704C388.3 701.3 392.5 699.8 400 697C407.5 694.2 416.7 690.8 425 687.5C433.3 684.2 441.7 680.8 450 677.5C458.3 674.2 466.7 670.8 475 667.5C483.3 664.2 491.7 660.8 500 657.5C508.3 654.2 516.7 651.2 525 647.5C533.3 643.8 541.7 638.8 550 635C558.3 631.2 566.7 628.8 575 625C583.3 621.2 591.7 616.7 600 612.5C608.3 608.3 616.7 604.2 625 600C633.3 595.8 641.7 591.7 650 587.5C658.3 583.3 666.7 579.2 675 575C683.3 570.8 691.7 566.8 700 562.5C708.3 558.2 716.7 553.2 725 549C733.3 544.8 741.7 541 750 537C758.3 533 766.7 529.2 775 525C783.3 520.8 789.8 517 800 512C810.2 507 830 497.8 836 495" class="r"/>
<path d="M157.3 643.9L180.4 643.9C181.3 645.2 183.9 647.3 186 651.5C188.1 655.7 190.3 662.8 193 669.3C195.7 675.8 198.3 683.1 202 690.4C205.7 697.7 210 706.9 215 713.3C220 719.6 224.5 724.1 232 728.5C239.5 732.9 250.3 736.8 260 739.6C269.7 742.4 280 744.1 290 745.3C300 746.5 310 746.8 320 747C330 747.2 340 746.8 350 746.4C360 746 371.7 745.1 380 744.4C388.3 743.7 392.5 743.3 400 742.4C407.5 741.5 416.7 740.4 425 738.8C433.3 737.2 441.7 735.1 450 732.8C458.3 730.5 466.7 728 475 725C483.3 722 491.7 718.8 500 715C508.3 711.2 516.7 706.7 525 702C533.3 697.3 541.7 692.3 550 687C558.3 681.7 566.3 676.2 575 670C583.7 663.8 593.7 656.3 602 650C610.3 643.7 617 637.5 625 632C633 626.5 641.3 622.3 650 617C658.7 611.7 667.8 604.5 677 600C686.2 595.5 696 594.3 705 590C714 585.7 722 579.7 731 574C740 568.3 750 561.7 759 556C768 550.3 776.5 545.2 785 540C793.5 534.8 801.5 530 810 525C818.5 520 831.7 512.5 836 510" class="r"/>
<path d="M157.3 649.1L180.4 649.1C181.3 650.5 183.9 652.7 186 657.2C188.1 661.7 190.3 669.3 193 676.2C195.7 683.1 198.3 690.9 202 698.7C205.7 706.5 210 716.3 215 723.1C220 729.9 224.5 734.8 232 739.4C239.5 744 250.3 748 260 751C269.7 754 280 755.7 290 757.1C300 758.5 310 758.9 320 759.2C330 759.5 340 759.2 350 758.8C360 758.4 371.7 757.5 380 756.8C388.3 756.1 392.5 755.7 400 754.8C407.5 753.9 416.7 752.8 425 751.3C433.3 749.8 441.7 748.2 450 746C458.3 743.8 466.7 740.8 475 738C483.3 735.2 491.7 732.5 500 729C508.3 725.5 516.7 721.3 525 717C533.3 712.7 541.7 708.2 550 703C558.3 697.8 566.7 692.3 575 686C583.3 679.7 592.5 671.5 600 665C607.5 658.5 611.7 653.5 620 647C628.3 640.5 640 632.3 650 626C660 619.7 671.7 613.3 680 609C688.3 604.7 691.7 604.5 700 600C708.3 595.5 720 588 730 582C740 576 750 570.2 760 564C770 557.8 777.3 552.3 790 545C802.7 537.7 828.3 524.2 836 520" class="r"/>
<path d="M157.3 654.3L180.4 654.3C181.3 655.8 183.9 658.2 186 663.2C188.1 668.2 190.3 676.5 193 684.1C195.7 691.7 198.3 700.3 202 708.9C205.7 717.5 210 728.2 215 735.7C220 743.2 224.5 748.6 232 753.6C239.5 758.6 250.3 762.8 260 766C269.7 769.2 280 771.1 290 772.6C300 774.1 310 774.8 320 775.2C330 775.6 340 775.4 350 775C360 774.6 371.7 773.7 380 773C388.3 772.3 392.5 771.9 400 771C407.5 770.1 416.7 769.1 425 767.8C433.3 766.5 441.7 764.7 450 763.2C458.3 761.7 466.7 760.9 475 759C483.3 757.1 491.7 754.5 500 752C508.3 749.5 516.7 746.8 525 744C533.3 741.2 541.7 738.5 550 735C558.3 731.5 566.7 727.2 575 723C583.3 718.8 591.7 714.5 600 710C608.3 705.5 616.7 701 625 696C633.3 691 641.7 685 650 680C658.3 675 667.5 669.8 675 666C682.5 662.2 686.7 661.2 695 657.5C703.3 653.8 715.8 649.6 725 644C734.2 638.4 742.3 631.5 750 624C757.7 616.5 764.2 607.3 771 599C777.8 590.7 785.2 581.2 791 574C796.8 566.8 798.5 564.2 806 556C813.5 547.8 831 530.2 836 525" class="r"/>
<path d="M157.3 659.5L180.4 659.5C181.3 661.1 183.9 663.7 186 669C188.1 674.3 190.3 683 193 691.1C195.7 699.2 198.3 708.4 202 717.5C205.7 726.6 210 738.1 215 746C220 753.9 224.5 759.7 232 765C239.5 770.3 250.3 774.7 260 778C269.7 781.3 280 783.3 290 785C300 786.7 310 787.5 320 788C330 788.5 340 788.3 350 788C360 787.7 371.7 786.7 380 786C388.3 785.3 392.5 784.8 400 784C407.5 783.2 416.7 782.2 425 781C433.3 779.8 441.7 778.7 450 777C458.3 775.3 466.7 773 475 771C483.3 769 491.7 767.2 500 765C508.3 762.8 516.7 760.5 525 758C533.3 755.5 541.7 753 550 750C558.3 747 566.7 743.7 575 740C583.3 736.3 591.7 732.2 600 728C608.3 723.8 616.7 719.7 625 715C633.3 710.3 641.7 705 650 700C658.3 695 666.7 690.3 675 685C683.3 679.7 691.7 673.5 700 668C708.3 662.5 716.7 657.7 725 652C733.3 646.3 741.7 640.7 750 634C758.3 627.3 766.7 620.2 775 612C783.3 603.8 789.8 595.5 800 585C810.2 574.5 830 555 836 549" class="r"/>
<path d="M157.3 677.6L180.4 677.6C181.3 679 183.9 681.3 186 686C188.1 690.7 190.3 698.3 193 706C195.7 713.7 198.3 723.3 202 732C205.7 740.7 210 750 215 758C220 766 226.2 773.8 232 780C237.8 786.2 242.8 790.8 250 795C257.2 799.2 266.7 802.2 275 805C283.3 807.8 287.5 809.8 300 812C312.5 814.2 333.3 817.5 350 818C366.7 818.5 387.5 816.3 400 815C412.5 813.7 412.5 811.7 425 810C437.5 808.3 462.5 807.2 475 805C487.5 802.8 487.5 801.7 500 797C512.5 792.3 533.3 784 550 777C566.7 770 583.3 763.7 600 755C616.7 746.3 637.5 733.3 650 725C662.5 716.7 666.7 710.8 675 705C683.3 699.2 687.5 697.5 700 690C712.5 682.5 733.3 670 750 660C766.7 650 785.7 638.3 800 630C814.3 621.7 830 613.3 836 610" class="r"/>
<path d="M157.3 684.8L180.4 684.8C181.3 686.2 183.9 688.3 186 693C188.1 697.7 190.3 705.5 193 713C195.7 720.5 198.3 729.8 202 738C205.7 746.2 210 754.7 215 762C220 769.3 227 777 232 782C237 787 238.7 789 245 792C251.3 795 260.8 797.7 270 800C279.2 802.3 286.7 804.3 300 806C313.3 807.7 333.3 810 350 810C366.7 810 387.5 807.7 400 806C412.5 804.3 412.5 802.7 425 800C437.5 797.3 458.3 793.8 475 790C491.7 786.2 508.3 781.7 525 777C541.7 772.3 558.3 767.8 575 762C591.7 756.2 608.3 749.8 625 742C641.7 734.2 662.5 722 675 715C687.5 708 687.5 707.5 700 700C712.5 692.5 733.3 680 750 670C766.7 660 785.7 648.7 800 640C814.3 631.3 830 621.7 836 618" class="r"/>
<path d="M157.3 694.2L180.4 694.2C181.3 695.5 183.9 697.4 186 702C188.1 706.6 190.3 714.7 193 722C195.7 729.3 198.3 738 202 746C205.7 754 210 762.7 215 770C220 777.3 226.2 784.5 232 790C237.8 795.5 243.7 799.5 250 803C256.3 806.5 262.5 808.5 270 811C277.5 813.5 286.7 816.2 295 818C303.3 819.8 311.7 821 320 822C328.3 823 336.7 823.7 345 824C353.3 824.3 361.7 824.2 370 824C378.3 823.8 386.7 823.7 395 823C403.3 822.3 411.7 821.2 420 820C428.3 818.8 436.7 817.5 445 816C453.3 814.5 460.8 813.2 470 811C479.2 808.8 489.8 805.7 500 803C510.2 800.3 518.5 798.5 531 795C543.5 791.5 559.3 786.5 575 782C590.7 777.5 608.3 773.3 625 768C641.7 762.7 658.3 756.7 675 750C691.7 743.3 708.3 735.3 725 728C741.7 720.7 760.8 712 775 706C789.2 700 799.8 695.8 810 692C820.2 688.2 831.7 684.5 836 683" class="r"/>
<path d="M157.3 757.2L180.4 757.2C181 756.9 182.4 757.5 184 755.5C185.6 753.5 188 748.6 190 745C192 741.4 194.2 736.7 196 734C197.8 731.3 199.3 729.2 201 729C202.7 728.8 204.2 730.3 206 733C207.8 735.7 209.3 738.8 212 745C214.7 751.2 218.2 762.2 222 770C225.8 777.8 230.3 786 235 792C239.7 798 244.2 801.8 250 806C255.8 810.2 262.5 814.3 270 817.5C277.5 820.7 286.7 823.1 295 825C303.3 826.9 311.7 827.8 320 828.8C328.3 829.8 336.7 830.6 345 831C353.3 831.4 361.7 831.2 370 831C378.3 830.8 386.7 830.6 395 830C403.3 829.4 411.7 828.5 420 827.5C428.3 826.5 436.7 825.2 445 823.8C453.3 822.3 461.7 820.4 470 818.8C478.3 817.1 485.8 816 495 813.8C504.2 811.5 511.7 808.1 525 805C538.3 801.9 558.3 798.3 575 795C591.7 791.7 610.8 788.8 625 785C639.2 781.2 643.3 778.7 660 772C676.7 765.3 705.8 752.8 725 745C744.2 737.2 760.8 732.2 775 725C789.2 717.8 799.8 707.8 810 702C820.2 696.2 831.7 692 836 690" class="r"/>
<path d="M157.3 709L180.4 709C181.3 710.8 183.7 715.7 186 720C188.3 724.3 191.2 730 194 735C196.8 740 199.7 744.7 202.5 750C205.3 755.3 208.1 761.6 211 767C213.9 772.4 216.8 777.7 220 782.5C223.2 787.3 226.7 791.8 230 796C233.3 800.2 235 802.7 240 807.5C245 812.3 253.3 821.2 260 825C266.7 828.8 273.3 828.5 280 830C286.7 831.5 293.3 832.5 300 833.8C306.7 835 312.5 836.5 320 837.5C327.5 838.5 336.7 839.2 345 840C353.3 840.8 361.7 842.3 370 842.5C378.3 842.7 386.7 841.6 395 841C403.3 840.4 411.7 839.6 420 838.8C428.3 837.9 436.7 837 445 836C453.3 835 461.7 833.9 470 832.5C478.3 831.1 485.8 829.6 495 827.5C504.2 825.4 511.7 823.8 525 820C538.3 816.2 558.3 810.2 575 805C591.7 799.8 608.3 794.8 625 789C641.7 783.2 658.3 777.3 675 770C691.7 762.7 708.3 751.7 725 745C741.7 738.3 756.5 736.2 775 730C793.5 723.8 825.8 711.7 836 708" class="r"/>
</g>
<path class="tk" d="M129.2 944 v16.1M269.6 944 v16.1M410 944 v16.1M550.4 944 v16.1M690.8 944 v16.1M831.2 944 v16.1M129.2 944 h-16.1M129.2 799 h-16.1M129.2 654 h-16.1M129.2 509 h-16.1M129.2 364 h-16.1M129.2 219 h-16.1M129.2 74 h-16.1"/>
<rect class="sp" x="129.2" y="1.5" width="702" height="942.5"/>
<g clip-path="url(#clipR)">
<path d="M955 542.5L978 542.5C979.3 543 981.9 542.7 986 545.6C990.1 548.5 998.7 556.1 1002.5 560C1006.3 563.9 1005.7 564.2 1008.8 568.8C1011.8 573.3 1018.1 583 1021 587.5C1023.9 592 1023.7 594.2 1026 596C1028.3 597.8 1031.4 598 1035 598C1038.6 598 1043.8 595.9 1047.5 596C1051.2 596.1 1054.2 597.1 1057.5 598.8C1060.8 600.4 1064.2 605.6 1067.5 606C1070.8 606.4 1075.2 603.2 1077.5 601C1079.8 598.8 1078.9 595.6 1081 592.5C1083.1 589.4 1087 584.8 1090 582.5C1093 580.2 1096.1 580.7 1098.8 578.8C1101.4 576.8 1103.1 572.7 1106 571C1108.9 569.3 1112.8 570 1116 568.8C1119.2 567.5 1122 564.8 1125 563.8C1128 562.7 1131.5 564.4 1133.8 562.5C1136 560.6 1136.7 555.6 1138.8 552.5C1140.8 549.4 1143.3 545.7 1146 543.8C1148.7 541.8 1150.2 542 1155 541C1159.8 540 1170 539.3 1175 537.5C1180 535.7 1180.8 533.3 1185 530C1189.2 526.7 1195.4 521 1200 517.5C1204.6 514 1209.2 511 1212.5 508.8C1215.8 506.5 1216.9 505 1220 504C1223.1 503 1227.2 503.2 1231 503C1234.8 502.8 1238.1 503.9 1242.5 503C1246.9 502.1 1252.5 498.2 1257.5 497.5C1262.5 496.8 1268.6 498.2 1272.5 498.8C1276.4 499.3 1277.9 500.4 1281 500.6C1284.1 500.8 1287.4 499.4 1291 500C1294.6 500.6 1297.2 503.5 1302.5 504C1307.8 504.5 1317.3 503.3 1322.5 503C1327.7 502.7 1329.8 502.8 1333.8 502C1337.7 501.2 1342.3 498.3 1346 498C1349.7 497.7 1350.3 498.7 1356 500C1361.7 501.3 1372.7 504.8 1380 506C1387.3 507.2 1395.5 506.5 1400 507C1404.5 507.5 1404.9 508 1407 509C1409.1 510 1409.9 513.2 1412.5 513C1415.1 512.8 1417.5 511.8 1422.5 507.5C1427.5 503.2 1436.2 493.8 1442.5 487.5C1448.8 481.2 1454.2 476.6 1460 470C1465.8 463.4 1474.6 451.7 1477.5 448" class="r"/>
<path d="M955 111.8L981 111.8C981.8 117.7 984.5 131.1 986 147.5C987.5 163.9 988.5 191.2 990 210C991.5 228.8 993.8 243.8 995 260C996.2 276.2 996.7 295.4 997.5 307.5C998.3 319.6 999.2 324.2 1000 332.5C1000.8 340.8 1001.7 349.2 1002.5 357.5C1003.3 365.8 1003.8 371.9 1005 382.5C1006.2 393.1 1007.9 410.4 1010 421C1012.1 431.6 1014.9 438.8 1017.5 446C1020.1 453.2 1023.1 462.9 1025.6 464.4C1028.1 465.9 1030.1 461.1 1032.5 455C1034.9 448.9 1037.5 434.3 1040 427.5C1042.5 420.7 1045 416.8 1047.5 414C1050 411.2 1052.5 410.4 1055 410.6C1057.5 410.8 1060 413.3 1062.5 415C1065 416.7 1067.8 420.2 1070 420.6C1072.2 421 1073.9 419.1 1076 417.5C1078.1 415.9 1080.6 413.8 1082.5 411C1084.4 408.2 1086.1 403.5 1087.5 401C1088.9 398.5 1089.3 396.6 1091 396C1092.7 395.4 1094.3 395.9 1097.5 397.5C1100.7 399.1 1105.4 405.2 1110 405.5C1114.6 405.8 1120.4 399.8 1125 399C1129.6 398.2 1133.8 399.3 1137.5 400.5C1141.2 401.7 1144.9 404 1147.5 406C1150.1 408 1150.9 411.7 1153 412.5C1155.1 413.3 1157.2 410.8 1160 410.8C1162.8 410.8 1167.2 411.4 1170 412.5C1172.8 413.6 1171.7 416.4 1176.7 417.5C1181.7 418.6 1193.3 418.4 1200 419C1206.7 419.6 1211.7 420 1216.7 420.8C1221.7 421.6 1226.1 423.4 1230 423.7C1233.9 424 1236.3 421.8 1240 422.5C1243.7 423.2 1248.3 427.8 1252 428C1255.7 428.2 1258.7 424.2 1262 424C1265.3 423.8 1266.9 425.7 1272 426.7C1277.1 427.7 1287.4 429.4 1292.5 430C1297.6 430.6 1297.1 429 1302.5 430C1307.9 431 1315 435 1325 436C1335 437 1353.3 435.5 1362.5 436C1371.7 436.5 1375.8 437.5 1380 438.8C1384.2 440 1382.5 442.5 1387.5 443.8C1392.5 445 1403.3 445 1410 446C1416.7 447 1422.5 448.3 1427.5 450C1432.5 451.7 1435.8 454.3 1440 456C1444.2 457.7 1448.8 458.1 1452.5 460C1456.2 461.9 1459.6 463.5 1462.5 467.5C1465.4 471.5 1468.8 481.2 1470 484" class="b"/>
<path d="M955 282.5L981.2 282.5C982.3 284.6 984.8 290 987.5 295C990.2 300 994.4 308 997.5 312.5C1000.6 317 1003.1 321.8 1006 322C1008.9 322.2 1011.7 317.8 1015 314C1018.3 310.2 1022.7 300.5 1025.6 299.4C1028.5 298.3 1030.1 302.8 1032.5 307.5C1034.9 312.2 1037.5 320.2 1040 327.5C1042.5 334.8 1044.8 341.8 1047.5 351C1050.2 360.2 1053.8 374.5 1056 382.5C1058.2 390.5 1059.2 400.2 1061 399C1062.8 397.8 1064.7 381.7 1067 375C1069.3 368.3 1072.7 360.8 1075 358.8C1077.3 356.7 1078.9 360.2 1081 362.5C1083.1 364.8 1085.3 368.8 1087.5 372.5C1089.7 376.2 1092.2 379.3 1094 385C1095.8 390.7 1096.5 401.7 1098 406.7C1099.5 411.7 1101.3 412.5 1103 415C1104.7 417.5 1106.3 418.9 1108 421.7C1109.7 424.5 1111 428.4 1113 431.7C1115 435 1117.5 438.6 1120 441.7C1122.5 444.8 1125.8 448.1 1128 450C1130.2 451.9 1130.5 451.9 1133 453C1135.5 454.1 1139.7 455 1143 456.7C1146.3 458.4 1150 460.8 1153 463C1156 465.2 1158.2 467.2 1161 470C1163.8 472.8 1167.2 477.5 1170 480C1172.8 482.5 1175 484 1177.5 485C1180 486 1182.5 484.8 1185 486C1187.5 487.2 1190 490.8 1192.5 492.5C1195 494.2 1197.5 494.3 1200 496C1202.5 497.7 1205 501 1207.5 502.5C1210 504 1212.1 503.8 1215 505C1217.9 506.2 1221.7 508.3 1225 510C1228.3 511.7 1231.7 512.9 1235 515C1238.3 517.1 1242.1 520 1245 522.5C1247.9 525 1249.6 527.5 1252.5 530C1255.4 532.5 1259.6 535.4 1262.5 537.5C1265.4 539.6 1267.1 540.4 1270 542.5C1272.9 544.6 1277.1 547.8 1280 550C1282.9 552.2 1284.6 554.3 1287.5 556C1290.4 557.7 1294.4 558.7 1297.5 560C1300.6 561.3 1303.5 562.1 1306 563.8C1308.5 565.4 1309.8 567.7 1312.5 570C1315.2 572.3 1319.2 575.4 1322.5 577.5C1325.8 579.6 1329.2 580.6 1332.5 582.5C1335.8 584.4 1339.6 586.7 1342.5 588.8C1345.4 590.8 1347.1 592.5 1350 595C1352.9 597.5 1356.3 601.3 1360 604C1363.7 606.7 1367.3 608.7 1372 611C1376.7 613.3 1383.3 615.7 1388 618C1392.7 620.3 1396.8 623.2 1400 625C1403.2 626.8 1406.2 628.1 1407.5 628.8" class="b"/>
<path d="M955 368.8L981.2 368.8C982.9 367.1 986.9 361.7 991 358.8C995.1 355.8 1001.2 350.8 1006 351C1010.8 351.2 1016 356.8 1020 360C1024 363.2 1027.1 366.2 1030 370C1032.9 373.8 1034.2 378.3 1037.5 382.5C1040.8 386.7 1046.9 392.5 1050 395C1053.1 397.5 1052.9 396 1056 397.5C1059.1 399 1065.6 402.3 1068.8 403.8C1071.9 405.2 1072.7 405 1075 406C1077.3 407 1080.4 408.5 1082.5 410C1084.6 411.5 1085.4 412.9 1087.5 415C1089.6 417.1 1092.5 419.8 1095 422.5C1097.5 425.2 1100.7 428.8 1102.5 431C1104.3 433.2 1104.3 434.1 1106 436C1107.7 437.9 1110 440 1112.5 442.5C1115 445 1118.1 448.1 1121 451C1123.9 453.9 1126.8 456.8 1130 460C1133.2 463.2 1137.1 467.5 1140 470C1142.9 472.5 1145.4 472.9 1147.5 475C1149.6 477.1 1151.1 480 1152.5 482.5C1153.9 485 1154.3 487.1 1156 490C1157.7 492.9 1159.8 497.5 1162.5 500C1165.2 502.5 1169.4 503.2 1172.5 505C1175.6 506.8 1177.5 510 1181 511C1184.5 512 1190.2 510.3 1193.8 511C1197.3 511.7 1199.4 513.7 1202.5 515C1205.6 516.3 1208.8 517.5 1212.5 518.8C1216.2 520 1220.8 520.8 1225 522.5C1229.2 524.2 1233.8 527.5 1237.5 528.8C1241.2 530 1244.4 529.8 1247.5 530C1250.6 530.2 1252.5 529.4 1256 530C1259.5 530.6 1264.6 532.9 1268.8 533.8C1272.9 534.6 1276.8 534.4 1281 535C1285.2 535.6 1289.6 536.5 1293.8 537.5C1297.9 538.5 1302.5 539.6 1306 541C1309.5 542.4 1311.8 545.2 1315 546C1318.2 546.8 1321.2 545.3 1325 546C1328.8 546.7 1332.5 548.1 1337.5 550C1342.5 551.9 1349.8 554.8 1355 557.5C1360.2 560.2 1365 563.3 1368.8 566C1372.5 568.7 1374.8 571.4 1377.5 573.8C1380.2 576.1 1382.5 577.7 1385 580C1387.5 582.3 1390 584.8 1392.5 587.5C1395 590.2 1397.5 593.9 1400 596C1402.5 598.1 1404.6 599.2 1407.5 600C1410.4 600.8 1414.2 599.8 1417.5 601C1420.8 602.2 1424.4 605.4 1427.5 607.5C1430.6 609.6 1433.5 611.9 1436 613.8C1438.5 615.6 1440.6 617.1 1442.5 618.8C1444.4 620.4 1445.4 622.5 1447.5 623.8C1449.6 625 1452.8 625.8 1455 626C1457.2 626.2 1459.2 625.6 1461 625C1462.8 624.4 1465.2 622.9 1466 622.5" class="b"/>
<path d="M955 390.6L983 390.6C985.8 389.2 995.7 383.9 1000 382.5C1004.3 381.1 1005.4 380.8 1008.8 382C1012.1 383.2 1015.2 386.7 1020 390C1024.8 393.3 1032.9 398 1037.5 402C1042.1 406 1044.2 409.5 1047.5 414C1050.8 418.5 1054.6 425.1 1057.5 428.8C1060.4 432.4 1062.8 434.1 1065 435.6C1067.2 437.1 1068.3 437.8 1071 437.5C1073.7 437.2 1077.2 434 1081 433.8C1084.8 433.5 1089.6 436 1093.8 436C1097.9 436 1101.6 433.9 1106 433.8C1110.4 433.6 1115.5 434.5 1120 435C1124.5 435.5 1129.1 436.8 1133 436.7C1136.9 436.6 1137.7 434.5 1143.3 434.2C1148.9 433.9 1160.1 433.5 1166.7 435C1173.3 436.5 1179.1 440.5 1183 443C1186.9 445.5 1185.8 448.3 1190 450C1194.2 451.7 1202.5 451.9 1208 453C1213.5 454.1 1218.8 454.7 1223 456.7C1227.2 458.7 1227.7 461.1 1233 465C1238.3 468.9 1249 476.9 1255 480C1261 483.1 1264.4 482.3 1268.8 483.8C1273.1 485.2 1277.5 487.5 1281 488.8C1284.5 490 1286.8 490.4 1290 491C1293.2 491.6 1296.2 491.4 1300 492.5C1303.8 493.6 1308.3 495.6 1312.5 497.5C1316.7 499.4 1320.8 501.5 1325 503.8C1329.2 506 1332.5 508.1 1337.5 511C1342.5 513.9 1349.2 518.2 1355 521C1360.8 523.8 1366.7 525 1372.5 527.5C1378.3 530 1384.2 532.2 1390 536C1395.8 539.8 1402.9 546.4 1407.5 550C1412.1 553.6 1414.2 554.2 1417.5 557.5C1420.8 560.8 1423.8 566.5 1427.5 570C1431.2 573.5 1435.4 575.2 1440 578.5C1444.6 581.8 1450.4 586.6 1455 590C1459.6 593.4 1464.8 596.7 1467.5 598.8C1470.2 600.8 1470.4 601.9 1471 602.5" class="b"/>
<path d="M955 474.4L980 474.4C980.8 475.3 983.5 477.4 985 480C986.5 482.6 987.5 485.2 988.8 490C990 494.8 991.3 503.4 992.5 508.8C993.7 514.1 994.8 516.6 996 522C997.2 527.4 998.5 536.2 1000 541C1001.5 545.8 1002.9 548.7 1005 551C1007.1 553.3 1010 554.2 1012.5 555C1015 555.8 1017.4 554.7 1020 555.5C1022.6 556.3 1025.3 558.8 1028 560C1030.7 561.2 1033.7 563.7 1036 563C1038.3 562.3 1040 559 1042 556C1044 553 1045.8 548.1 1048 545C1050.2 541.9 1052.5 539 1055 537.5C1057.5 536 1059.7 536 1063 536C1066.3 536 1071.3 537.3 1075 537.5C1078.7 537.7 1082 537.8 1085 537C1088 536.2 1090.8 534.8 1093 533C1095.2 531.2 1096.3 528.5 1098 526C1099.7 523.5 1101.3 520.4 1103 518C1104.7 515.6 1105.2 514.4 1108 511.7C1110.8 509 1115.8 504.6 1120 501.7C1124.2 498.8 1129.4 494.6 1133 494C1136.6 493.4 1137.8 499.2 1141.7 498C1145.7 496.8 1152.5 490 1156.7 486.7C1160.9 483.4 1162.8 481.6 1166.7 478C1170.6 474.4 1175.6 467.7 1180 465C1184.4 462.3 1188.3 462.9 1193 461.7C1197.7 460.4 1201.8 458 1208 457.5C1214.2 457 1222.2 458.5 1230 458.5C1237.8 458.5 1246.7 457.6 1255 457.5C1263.3 457.4 1271.7 457.4 1280 458C1288.3 458.6 1296.7 459.7 1305 461C1313.3 462.3 1321.7 463.9 1330 466C1338.3 468.1 1346.7 470.8 1355 473.8C1363.3 476.7 1373.8 480.6 1380 483.8C1386.2 486.9 1388.3 490 1392.5 492.5C1396.7 495 1400.4 497.1 1405 498.8C1409.6 500.4 1415.8 501 1420 502.5C1424.2 504 1426.2 505.6 1430 507.5C1433.8 509.4 1437.5 511.8 1442.5 513.8C1447.5 515.8 1453.8 518.9 1460 519.5C1466.2 520.1 1473.3 518.2 1480 517.5C1486.7 516.8 1493.7 516 1500 515C1506.3 514 1513.8 512.3 1518 511.5C1522.2 510.7 1523.8 510.2 1525 510" class="b"/>
<path d="M955 495L981 495C981.5 494.2 982.7 495 983.8 490C984.8 485 985.8 476.5 987.5 465C989.2 453.5 991.7 433.5 993.8 421C995.8 408.5 998.1 398.2 1000 390C1001.9 381.8 1003.2 376.8 1005 372C1006.8 367.2 1008.5 361.3 1011 361C1013.5 360.7 1017.5 367.5 1020 370C1022.5 372.5 1023.8 375.7 1026 376C1028.2 376.3 1030.5 373.4 1033 372C1035.5 370.6 1038.3 366.8 1041 367.5C1043.7 368.2 1046.5 372.2 1049 376C1051.5 379.8 1053.8 387 1056 390C1058.2 393 1060.2 392.5 1062.5 393.8C1064.8 395 1067.5 395.8 1070 397.5C1072.5 399.2 1074.6 401 1077.5 403.8C1080.4 406.5 1084.6 411 1087.5 413.8C1090.4 416.5 1091.9 418.8 1095 420C1098.1 421.2 1102.5 420 1106 421C1109.5 422 1112.4 424.3 1116 426C1119.6 427.7 1124.8 429.3 1127.5 431C1130.2 432.7 1129.3 433.4 1132.5 436C1135.7 438.6 1142.5 444.7 1146.7 446.7C1151 448.7 1153.3 446.6 1158 448C1162.7 449.4 1169.4 453 1175 455C1180.6 457 1187.5 457.8 1191.7 460C1195.9 462.2 1197 464.7 1200 468C1203 471.3 1206.7 477.4 1210 480C1213.3 482.6 1216.5 482.5 1220 483.8C1223.5 485 1227.7 486 1231 487.5C1234.3 489 1236.8 490.6 1240 492.5C1243.2 494.4 1246.2 496.5 1250 498.8C1253.8 501 1258.3 503.3 1262.5 506C1266.7 508.7 1270.8 512.5 1275 515C1279.2 517.5 1283.3 518.7 1287.5 521C1291.7 523.3 1296.2 526.4 1300 528.8C1303.8 531.1 1306.9 533 1310 535C1313.1 537 1315.8 539.2 1318.8 541C1321.7 542.8 1324.4 544.7 1327.5 546C1330.6 547.3 1332.9 546.8 1337.5 548.8C1342.1 550.7 1349.8 554.6 1355 557.5C1360.2 560.4 1364.4 565.2 1368.8 566C1373.1 566.8 1376 563.1 1381 562.5C1386 561.9 1394.3 561.7 1398.8 562.5C1403.2 563.3 1404.8 565.8 1407.5 567.5C1410.2 569.2 1411.7 572.5 1415 572.5C1418.3 572.5 1422.9 569.4 1427.5 567.5C1432.1 565.6 1438.8 563.1 1442.5 561C1446.2 558.9 1447.8 557 1450 555C1452.2 553 1453.5 550.8 1456 549C1458.5 547.2 1461.2 545.7 1465 544.5C1468.8 543.3 1476.5 542.3 1478.8 541.9" class="b"/>
<path d="M955 511.2C960.4 511.4 979.4 511.7 987.5 512C995.6 512.3 999.6 511.9 1003.8 513C1007.9 514.1 1009.8 516.6 1012.5 518.8C1015.2 520.9 1017.5 523.7 1020 526C1022.5 528.3 1024.6 531.5 1027.5 532.5C1030.4 533.5 1034.2 532.4 1037.5 532C1040.8 531.6 1044.4 529.8 1047.5 530C1050.6 530.2 1053.1 532 1056 533C1058.9 534 1061.8 535.4 1065 536C1068.2 536.6 1072.2 536.7 1075 536.5C1077.8 536.3 1079.8 535.9 1082 535C1084.2 534.1 1086.3 532.8 1088 531C1089.7 529.2 1090.5 525.5 1092 524C1093.5 522.5 1094.9 522.7 1096.7 521.7C1098.5 520.7 1100.8 518 1103 518C1105.2 518 1107.5 521.7 1110 521.7C1112.5 521.7 1115.2 517.5 1118 518C1120.8 518.5 1123.6 523.5 1126.7 525C1129.8 526.5 1133.4 525.7 1136.7 526.7C1140 527.7 1143.2 530.6 1146.7 530.8C1150.2 531 1154.5 528.5 1157.5 528C1160.5 527.5 1162.5 528.2 1165 527.5C1167.5 526.8 1169.8 524.5 1172.5 523.8C1175.2 523 1178.3 522.4 1181 523C1183.7 523.6 1186.2 526.2 1188.8 527.5C1191.2 528.8 1192.9 530.2 1196 531C1199.1 531.8 1204.3 532.2 1207.5 532C1210.7 531.8 1212.1 529.9 1215 530C1217.9 530.1 1221.2 531.2 1225 532.5C1228.8 533.8 1233.3 536.1 1237.5 537.5C1241.7 538.9 1245.8 539.8 1250 541C1254.2 542.2 1258.3 543.3 1262.5 545C1266.7 546.7 1270.8 548.9 1275 551C1279.2 553.1 1283.3 555.8 1287.5 557.5C1291.7 559.2 1295.8 559.3 1300 561C1304.2 562.7 1308.3 565.8 1312.5 567.5C1316.7 569.2 1320.8 569.8 1325 571C1329.2 572.2 1334.2 574.3 1337.5 575C1340.8 575.7 1341.9 574.4 1345 575C1348.1 575.6 1352.7 577.8 1356 578.8C1359.3 579.8 1361.4 580.7 1365 581C1368.6 581.3 1373.3 580.8 1377.5 580.6C1381.7 580.4 1385.8 580.5 1390 580C1394.2 579.5 1398.3 578.3 1402.5 577.5C1406.7 576.7 1410.8 575.6 1415 575C1419.2 574.4 1423.3 573.6 1427.5 573.8C1431.7 573.9 1436.5 576.6 1440 576C1443.5 575.4 1445.6 572 1448.8 570C1451.9 568 1455 565.6 1458.8 563.8C1462.5 561.9 1466.8 560.2 1471 558.8C1475.2 557.3 1480 556.3 1483.8 555C1487.5 553.7 1490.6 553.3 1493.8 551C1496.9 548.7 1499 545.3 1502.5 541C1506 536.7 1511.2 530.1 1515 525C1518.8 519.9 1521.7 515.1 1525 510.6C1528.3 506.1 1533.3 500.1 1535 498" class="b"/>
<path d="M955 566L981 566C981.7 565.4 983.3 565.2 985 562.5C986.7 559.8 988.9 554.6 991 550C993.1 545.4 995.6 539.2 997.5 535C999.4 530.8 1001.1 527 1002.5 525C1003.9 523 1004.4 522.6 1005.6 523C1006.9 523.4 1008.4 524.9 1010 527.5C1011.6 530.1 1013.3 535 1015 538.8C1016.7 542.5 1018.3 546.7 1020 550C1021.7 553.3 1023.2 556.7 1025 558.8C1026.8 560.8 1028.9 560.2 1031 562.5C1033.1 564.8 1035.6 569.4 1037.5 572.5C1039.4 575.6 1040.4 577.9 1042.5 581C1044.6 584.1 1047.3 587.8 1050 591C1052.7 594.2 1055.8 597 1058.8 600C1061.7 603 1064.4 606.8 1067.5 608.8C1070.6 610.8 1074.6 611.8 1077.5 612C1080.4 612.2 1082.3 610.8 1085 610C1087.7 609.2 1090.8 607 1093.8 607C1096.7 607 1099.4 608.5 1102.5 610C1105.6 611.5 1108.8 614.2 1112.5 616C1116.2 617.8 1120.8 619.5 1125 621C1129.2 622.5 1132.1 623.3 1137.5 625C1142.9 626.7 1150 628.7 1157.5 631C1165 633.3 1174.2 636.7 1182.5 639C1190.8 641.3 1199.2 642.8 1207.5 645C1215.8 647.2 1224.2 650 1232.5 652.5C1240.8 655 1250.4 658.3 1257.5 660C1264.6 661.7 1269.6 661.2 1275 662.5C1280.4 663.8 1284.2 667.2 1290 667.5C1295.8 667.8 1303.3 664.2 1310 664C1316.7 663.8 1323.5 667.3 1330 666C1336.5 664.7 1341.5 659.1 1348.8 656C1356 652.9 1367.1 649.5 1373.8 647.5C1380.4 645.5 1384.2 645.4 1388.8 643.8C1393.3 642.1 1397.9 639.6 1401 637.5C1404.1 635.4 1404.8 632.7 1407.5 631C1410.2 629.3 1413.8 629.2 1417.5 627.5C1421.2 625.8 1425.8 623.2 1430 621C1434.2 618.8 1438.3 615.8 1442.5 614C1446.7 612.2 1450.8 611.7 1455 610C1459.2 608.3 1462.9 605.5 1467.5 603.8C1472.1 602 1480 600.1 1482.5 599.4" class="b"/>
<path d="M955 569L981 569C982.1 569.6 984.8 570.5 987.5 572.5C990.2 574.5 994.2 578.1 997.5 581C1000.8 583.9 1004.6 586.7 1007.5 590C1010.4 593.3 1012.5 597.2 1015 601C1017.5 604.8 1019.8 608.7 1022.5 612.5C1025.2 616.3 1028.5 620.5 1031 623.8C1033.5 627 1035.2 629.3 1037.5 632C1039.8 634.7 1041.2 634.1 1045 640C1048.8 645.9 1055.7 659.9 1060 667.5C1064.3 675.1 1067.2 684.2 1071 685.5C1074.8 686.8 1077.7 680.1 1082.5 675C1087.3 669.9 1093.8 661.2 1100 655C1106.2 648.8 1112.5 645 1120 637.5C1127.5 630 1137.5 617.5 1145 610C1152.5 602.5 1159.4 597.5 1165 592.5C1170.6 587.5 1175 584.2 1178.8 580C1182.5 575.8 1184 572.5 1187.5 567.5C1191 562.5 1195.8 556.2 1200 550C1204.2 543.8 1208.3 536.7 1212.5 530C1216.7 523.3 1220.8 516.7 1225 510C1229.2 503.3 1233.3 497 1237.5 490C1241.7 483 1245.1 476.3 1250 468C1254.9 459.7 1261.2 449.2 1266.7 440C1272.2 430.8 1277 423 1283 413C1289 403 1293.9 394.8 1303 380C1312.1 365.2 1324.7 345.2 1337.5 324C1350.3 302.8 1368.8 271.5 1380 252.5C1391.2 233.5 1394.6 226.7 1405 210C1415.4 193.3 1430.4 170.4 1442.5 152.5C1454.6 134.6 1471.7 110.8 1477.5 102.5" class="b"/>
<path d="M955 590L978 590C979 591.3 982.2 593.7 984 598C985.8 602.3 987.2 609 989 616C990.8 623 993.2 633.3 995 640C996.8 646.7 998.5 650 1000 656C1001.5 662 1002 670.7 1004 676C1006 681.3 1009.3 684.8 1012 688C1014.7 691.2 1017 692.7 1020 695C1023 697.3 1025.8 701.2 1030 702C1034.2 702.8 1040.7 700.8 1045 700C1049.3 699.2 1052.2 697.5 1056 697.5C1059.8 697.5 1063.9 699 1067.5 700C1071.1 701 1074.2 702.1 1077.5 703.8C1080.8 705.4 1084.6 708 1087.5 710C1090.4 712 1092.1 714.5 1095 716C1097.9 717.5 1101.2 717.5 1105 718.8C1108.8 720 1114 723.1 1117.5 723.8C1121 724.4 1123.3 724 1126 722.5C1128.7 721 1130.6 716.7 1133.8 715C1136.9 713.3 1141.3 712.7 1145 712.5C1148.7 712.3 1151.8 715 1156 713.8C1160.2 712.5 1163.5 707.7 1170 705C1176.5 702.3 1186.7 700.8 1195 697.5C1203.3 694.2 1211.7 687.9 1220 685C1228.3 682.1 1236.7 682.1 1245 680C1253.3 677.9 1262.5 675.5 1270 672.5C1277.5 669.5 1282.5 664.1 1290 661.7C1297.5 659.3 1307.2 658.6 1315 658C1322.8 657.4 1329.2 657.8 1336.7 658C1344.2 658.2 1352.3 658.8 1360 659C1367.7 659.2 1376.3 658.3 1383 659C1389.7 659.7 1393.8 662.4 1400 663C1406.2 663.6 1412.8 662.3 1420 662.5C1427.2 662.7 1436.9 664.1 1443 664C1449.1 663.9 1453.9 663.1 1456.7 662C1459.5 660.9 1459.5 658.2 1460 657.5" class="r"/>
<path d="M955 632.5L978 632.5C979.2 633.6 981.3 635.2 985 639C988.7 642.8 996.5 651.1 1000 655C1003.5 658.9 1003.3 658.2 1006 662.5C1008.7 666.8 1012.8 674.8 1016 681C1019.2 687.2 1021.8 693.8 1025 700C1028.2 706.2 1030.8 712.7 1035 718C1039.2 723.3 1044.8 728.3 1050 732C1055.2 735.7 1060.7 738.2 1066 740C1071.3 741.8 1075.8 742.2 1081.7 743C1087.7 743.8 1096.5 744.4 1101.7 745C1106.9 745.6 1107.8 745.9 1113 746.7C1118.2 747.5 1128 750.3 1133 750C1138 749.7 1138 746.7 1143 745C1148 743.3 1158 741.4 1163 740C1168 738.6 1169.7 738.4 1173 736.7C1176.3 735 1179.3 730.8 1183 730C1186.7 729.2 1191.7 732.2 1195 731.7C1198.3 731.2 1198 728.7 1203 726.7C1208 724.8 1220.1 722 1225 720C1229.9 718 1227.1 717.5 1232.5 715C1237.9 712.5 1249.2 708.3 1257.5 705C1265.8 701.7 1277.1 697.8 1282.5 695C1287.9 692.2 1286 690.2 1290 688C1294 685.8 1301.2 683.9 1306.7 681.7C1312.2 679.5 1317.5 678.1 1323 675C1328.5 671.9 1334.4 666.3 1340 663C1345.6 659.7 1351.2 657.5 1356.7 655C1362.2 652.5 1367.5 650.1 1373 648C1378.5 645.9 1385 644.2 1390 642.5C1395 640.8 1399.2 639.8 1403 638C1406.8 636.2 1409.7 634.7 1413 631.7C1416.3 628.7 1419.9 623.1 1423 620C1426.1 616.9 1428.6 614.3 1431.7 613C1434.8 611.7 1439.2 613.7 1441.7 612C1444.2 610.3 1444.2 605 1446.7 603C1449.2 601 1453.4 600.5 1456.7 600C1460 599.5 1464 602 1466.7 600C1469.4 598 1469.5 592 1473 588C1476.5 584 1485.1 578 1487.5 576" class="r"/>
<path d="M955 685L978 685C979.6 684.6 983 684 987.5 682.5C992 681 1000.4 674.8 1005 676C1009.6 677.2 1011.7 684 1015 690C1018.3 696 1020.8 705 1025 712C1029.2 719 1034.2 726.5 1040 732C1045.8 737.5 1053.3 741.7 1060 745C1066.7 748.3 1073.3 750.2 1080 752C1086.7 753.8 1092.5 755.2 1100 756C1107.5 756.8 1117.8 756.9 1125 757C1132.2 757.1 1136.7 757.4 1143 756.7C1149.3 756 1158 753.3 1163 753C1168 752.7 1167.7 754.4 1173 755C1178.3 755.6 1189.7 757 1195 756.7C1200.3 756.4 1200 754.5 1205 753C1210 751.5 1218.3 749.5 1225 748C1231.7 746.5 1237.5 745.5 1245 743.8C1252.5 742 1262.5 739.8 1270 737.5C1277.5 735.2 1284.5 732.4 1290 730C1295.5 727.6 1298 726 1303 723C1308 720 1313.8 715.2 1320 711.7C1326.2 708.2 1334.5 704.2 1340 701.7C1345.5 699.2 1347.5 698.4 1353 696.7C1358.5 695 1368.5 693.4 1373 691.7C1377.5 690 1375.8 690.3 1380 686.7C1384.2 683.1 1393.8 674.2 1398 670C1402.2 665.8 1401.3 665 1405 661.7C1408.7 658.4 1415.5 653.1 1420 650C1424.5 646.9 1427.5 646.7 1431.7 643C1435.9 639.3 1440.8 632.4 1445 628C1449.2 623.6 1452.5 620 1456.7 616.7C1460.9 613.4 1465.8 610 1470 608C1474.2 606 1478.7 606 1481.7 605C1484.7 604 1486.1 603.7 1488 601.7C1489.9 599.7 1490.2 596.6 1493 593C1495.8 589.4 1501.8 584.2 1505 580C1508.2 575.8 1509 572.1 1512.5 567.5C1516 562.9 1523.8 555 1526 552.5" class="r"/>
<path d="M955 690L978 690C979.3 690.7 981.9 691.1 986 694C990.1 696.9 996.8 702.3 1002.5 707.5C1008.2 712.7 1014.6 719.2 1020 725C1025.4 730.8 1029.2 737 1035 742C1040.8 747 1048.3 751.7 1055 755C1061.7 758.3 1068 760.7 1075 762C1082 763.3 1089.5 762.8 1096.7 763C1103.9 763.2 1112.8 761.8 1118 763C1123.2 764.2 1124.7 769.4 1128 770C1131.3 770.6 1134.3 767 1138 766.7C1141.7 766.4 1146.7 767.2 1150 768C1153.3 768.8 1153 770.9 1158 771.7C1163 772.5 1174.7 772.8 1180 773C1185.3 773.2 1185 773.5 1190 773C1195 772.5 1205 771 1210 770C1215 769 1216.7 768 1220 766.7C1223.3 765.5 1224.2 764.9 1230 762.5C1235.8 760.1 1248.8 755.4 1255 752.5C1261.2 749.6 1262 748.2 1267 745C1272 741.8 1279 736.5 1285 733C1291 729.5 1297.2 727.4 1303 724C1308.8 720.6 1313.8 716.1 1320 712.5C1326.2 708.9 1334.5 705 1340 702.5C1345.5 700 1347.5 699.2 1353 697.5C1358.5 695.8 1368.5 694.2 1373 692.5C1377.5 690.8 1375.8 691.1 1380 687.5C1384.2 683.9 1393.8 675.2 1398 671C1402.2 666.8 1401.3 665.8 1405 662.5C1408.7 659.2 1415.5 654.1 1420 651C1424.5 647.9 1427.5 647.7 1431.7 644C1435.9 640.3 1440.8 633.4 1445 629C1449.2 624.6 1452.5 620.8 1456.7 617.5C1460.9 614.2 1465.8 610.9 1470 609C1474.2 607.1 1478.7 607.2 1481.7 606C1484.7 604.8 1487 602.7 1488 602" class="r"/>
<path d="M955 712.5L978 712.5C979.6 712.9 982.4 714 987.5 715C992.6 716 1002.5 716.2 1008.8 718.8C1015 721.2 1019.8 725.1 1025 730C1030.2 734.9 1035 742.2 1040 748C1045 753.8 1050 760 1055 765C1060 770 1064.2 774.5 1070 778C1075.8 781.5 1081.7 784.7 1090 786C1098.3 787.3 1110.8 786.2 1120 786C1129.2 785.8 1136.7 785.6 1145 785C1153.3 784.4 1161.7 783.3 1170 782.5C1178.3 781.7 1186.7 779.8 1195 780C1203.3 780.2 1211.7 782.5 1220 783.8C1228.3 785 1239.2 786.9 1245 787.5C1250.8 788.1 1247.1 786.9 1255 787.5C1262.9 788.1 1280 789.8 1292.5 791C1305 792.2 1319.6 794.3 1330 795C1340.4 795.7 1346.7 795.4 1355 795C1363.3 794.6 1371.7 793.8 1380 792.5C1388.3 791.2 1394.6 789.4 1405 787.5C1415.4 785.6 1430 782.7 1442.5 781C1455 779.3 1471.7 778.9 1480 777.5C1488.3 776.1 1486.2 775.4 1492.5 772.5C1498.8 769.6 1510 764.2 1517.5 760C1525 755.8 1531.2 750.4 1537.5 747.5C1543.8 744.6 1549.2 744.4 1555 742.5C1560.8 740.6 1569.6 737.1 1572.5 736" class="r"/>
<path d="M955 731L978 731C980 730.8 985.8 729.8 990 730C994.2 730.2 999.3 730 1003 732C1006.7 734 1008.8 737.7 1012 742C1015.2 746.3 1019 753 1022 758C1025 763 1027 767.5 1030 772C1033 776.5 1036.2 780.7 1040 785C1043.8 789.3 1048 794.5 1053 798C1058 801.5 1064.4 803.7 1070 806C1075.6 808.3 1081.7 810.2 1086.7 812C1091.7 813.8 1095.6 815.5 1100 817C1104.4 818.5 1108.5 819.2 1113 820.7C1117.5 822.2 1121.1 824.8 1126.7 825.7C1132.3 826.6 1140 825.8 1146.7 826C1153.4 826.2 1160.7 827.2 1166.7 827C1172.8 826.8 1177 825.2 1183 824.5C1189 823.8 1196 823.2 1203 822.5C1210 821.8 1216.3 820.6 1225 820C1233.7 819.4 1245.8 819.8 1255 819C1264.2 818.2 1271.7 816.8 1280 815C1288.3 813.2 1296.7 810.5 1305 808C1313.3 805.5 1321.7 802.6 1330 800C1338.3 797.4 1346.7 795.4 1355 792.5C1363.3 789.6 1371.7 787.5 1380 782.5C1388.3 777.5 1396.7 768.8 1405 762.5C1413.3 756.2 1421.7 750.8 1430 745C1438.3 739.2 1448.3 732.1 1455 727.5C1461.7 722.9 1465 721.7 1470 717.5C1475 713.3 1480.8 707.1 1485 702.5C1489.2 697.9 1490.5 696.2 1495 690C1499.5 683.8 1507.9 670.8 1511.7 665C1515.5 659.2 1515 659.7 1518 655C1521 650.3 1528 639.8 1530 636.7" class="r"/>
<path d="M955 741L978 741C980 740.3 986.3 738.5 990 737C993.7 735.5 996.7 732.3 1000 732C1003.3 731.7 1006.7 732 1010 735C1013.3 738 1017 746.2 1020 750C1023 753.8 1025.2 753.5 1028 758C1030.8 762.5 1033.9 771.7 1036.7 776.7C1039.5 781.7 1041.5 784.6 1045 788C1048.5 791.4 1053.8 794.7 1058 797C1062.2 799.3 1065.8 800.2 1070 802C1074.2 803.8 1078.5 806 1083 808C1087.5 810 1092.2 812.2 1096.7 814C1101.2 815.8 1105.6 817 1110 818.5C1114.4 820 1119.2 821.8 1123 823C1126.8 824.2 1129 825.2 1133 826C1137 826.8 1141.1 827.5 1146.7 828C1152.3 828.5 1160.7 829.3 1166.7 829C1172.8 828.7 1177 826.8 1183 826C1189 825.2 1196 824.8 1203 824C1210 823.2 1216.3 822.5 1225 821C1233.7 819.5 1245.8 817.7 1255 815C1264.2 812.3 1271.7 808.8 1280 805C1288.3 801.2 1296.7 796.2 1305 792C1313.3 787.8 1323.8 782.7 1330 780C1336.2 777.3 1335.8 779.3 1342.5 776C1349.2 772.7 1361.7 765.2 1370 760C1378.3 754.8 1384.6 750.4 1392.5 745C1400.4 739.6 1410 733.3 1417.5 727.5C1425 721.7 1432.1 714.2 1437.5 710C1442.9 705.8 1446.6 703.8 1450 702.5C1453.4 701.2 1455.3 701.4 1458 702C1460.7 702.6 1464.7 705.3 1466 706" class="r"/>
<path d="M955 751L978 751C980 749.8 986 746.2 990 744C994 741.8 997.8 739.5 1002 738C1006.2 736.5 1010.3 733.8 1015 735C1019.7 736.2 1025 740.5 1030 745C1035 749.5 1040.3 757.5 1045 762C1049.7 766.5 1053.8 767.9 1058 771.7C1062.2 775.5 1065.8 781.1 1070 785C1074.2 788.9 1078.5 791.7 1083 795C1087.5 798.3 1092.2 802 1096.7 805C1101.2 808 1106.1 810.5 1110 813C1113.9 815.5 1116.7 817.8 1120 820C1123.3 822.2 1125.5 824.3 1130 826C1134.5 827.7 1140.6 829 1146.7 830C1152.8 831 1160.7 831.8 1166.7 832C1172.8 832.2 1177.5 831 1183 831C1188.5 831 1193 832.1 1200 832C1207 831.9 1220 830 1225 830.5C1230 831 1225 833.8 1230 835C1235 836.2 1244.6 837.5 1255 837.5C1265.4 837.5 1282.1 836.4 1292.5 835C1302.9 833.6 1309.2 830.7 1317.5 829C1325.8 827.3 1335 826.3 1342.5 825C1350 823.7 1356.2 821.4 1362.5 821C1368.8 820.6 1372.9 822.7 1380 822.5C1387.1 822.3 1396.7 820.4 1405 820C1413.3 819.6 1424.6 820.4 1430 820C1435.4 819.6 1436.2 817.9 1437.5 817.5" class="r"/>
<path d="M955 771L978 771C979.2 771.7 981 772.4 985 775C989 777.6 996.4 784.5 1001.7 786.7C1007 788.9 1011.5 787.6 1016.7 788C1021.9 788.4 1028.6 788.2 1033 789C1037.4 789.8 1039 789.8 1043 793C1047 796.2 1052.8 804.7 1056.7 808C1060.7 811.3 1062.8 811.3 1066.7 813C1070.6 814.7 1076.1 816.3 1080 818C1083.9 819.7 1086.2 821.3 1090 823C1093.8 824.7 1098.5 826.3 1103 828C1107.5 829.7 1111.7 832.7 1116.7 833C1121.7 833.3 1127.5 830.2 1133 830C1138.5 829.8 1144.4 830.9 1150 831.7C1155.6 832.5 1161.2 834 1166.7 835C1172.2 836 1177.5 836.9 1183 838C1188.5 839.1 1194.4 840.5 1200 841.7C1205.6 842.9 1211.7 844.3 1216.7 845C1221.7 845.7 1223.6 844.5 1230 846C1236.4 847.5 1246.7 852.2 1255 853.8C1263.3 855.2 1271.7 854.8 1280 855C1288.3 855.2 1296.7 855.8 1305 855C1313.3 854.2 1321.7 851.9 1330 850C1338.3 848.1 1346.7 845.8 1355 843.8C1363.3 841.7 1371.7 840 1380 837.5C1388.3 835 1396.7 831.7 1405 828.8C1413.3 825.8 1421.7 823.5 1430 820C1438.3 816.5 1446.7 811.7 1455 807.5C1463.3 803.3 1473.3 798.6 1480 795C1486.7 791.4 1490.8 787.9 1495 786C1499.2 784.1 1503.3 784.1 1505 783.8" class="r"/>
<path d="M955 635.5L981 635.5C982.1 632.9 985.6 625.9 987.5 620C989.4 614.1 990 608.3 992.5 600C995 591.7 999.8 578.3 1002.5 570C1005.2 561.7 1006.7 557.5 1008.8 550C1010.8 542.5 1013.1 532.8 1015 525C1016.9 517.2 1018.5 509.2 1020 503.5C1021.5 497.8 1022.1 493.9 1023.8 491C1025.4 488.1 1027.7 485.5 1030 486C1032.3 486.5 1035 491.2 1037.5 493.8C1040 496.2 1042.3 500.2 1045 501C1047.7 501.8 1051.2 497.7 1053.8 498.8C1056.2 499.8 1058 504 1060 507.5C1062 511 1064 516.6 1066 520C1068 523.4 1069.4 525.2 1071.7 528C1074 530.8 1077 534.5 1080 536.7C1083 538.9 1086.7 539.6 1090 541C1093.3 542.4 1095.2 543.1 1100 545C1104.8 546.9 1112.5 550.2 1118.8 552.5C1125 554.8 1132.3 556.9 1137.5 558.8C1142.7 560.6 1145.8 562.3 1150 563.8C1154.2 565.2 1158.8 566.1 1162.5 567.5C1166.2 568.9 1169.4 571.5 1172.5 572C1175.6 572.5 1177.9 570.6 1181 570.6C1184.1 570.6 1187.2 571.5 1191 572C1194.8 572.5 1199.6 572.6 1203.8 573.8C1207.9 574.9 1212.3 578 1216 578.8C1219.7 579.5 1222.4 577.6 1226 578C1229.6 578.4 1233.5 579.7 1237.5 581C1241.5 582.3 1245.8 584.8 1250 585.6C1254.2 586.4 1258.3 585.9 1262.5 586C1266.7 586.1 1270.8 585.5 1275 586C1279.2 586.5 1283.3 587.7 1287.5 588.8C1291.7 589.8 1295.8 591.3 1300 592.5C1304.2 593.7 1308.3 595 1312.5 596C1316.7 597 1320.8 598.8 1325 598.8C1329.2 598.7 1334.2 595.7 1337.5 595.6C1340.8 595.5 1342.5 597.1 1345 598C1347.5 598.9 1349.2 599.2 1352.5 601C1355.8 602.8 1360.8 606.6 1365 608.8C1369.2 610.9 1373.3 611.9 1377.5 613.8C1381.7 615.6 1385.8 618.1 1390 620C1394.2 621.9 1399.6 623.5 1402.5 625C1405.4 626.5 1404.6 627.3 1407.5 628.8C1410.4 630.2 1415.2 632.3 1420 633.8C1424.8 635.2 1430.2 636.3 1436 637.5C1441.8 638.7 1449.8 639.6 1455 641C1460.2 642.4 1462.3 644.7 1467.5 646C1472.7 647.3 1479.3 647.7 1486 648.8C1492.7 649.8 1503.9 651.9 1507.5 652.5" class="b"/>
<path d="M955 715L981 715C983.1 712.1 990 702.1 993.8 697.5C997.5 692.9 1001.2 691.1 1003.8 687.5C1006.2 683.9 1007.3 680.4 1008.8 676C1010.2 671.6 1011 667.2 1012.5 661C1014 654.8 1015.8 645.8 1017.5 639C1019.2 632.2 1020.2 629 1022.5 620C1024.8 611 1028.1 595.2 1031 585C1033.9 574.8 1037.2 565.8 1040 558.5C1042.8 551.2 1044.2 547.2 1047.5 541C1050.8 534.8 1056.5 526 1060 521C1063.5 516 1065.2 513.7 1068.8 511C1072.2 508.3 1077.3 506.8 1081 505C1084.7 503.2 1087.8 503 1091 500C1094.2 497 1095.7 493.2 1100 487C1104.3 480.8 1110.6 470.3 1116.7 463C1122.8 455.7 1131.2 448.5 1136.7 443C1142.2 437.5 1145 435.5 1150 430C1155 424.5 1162 415.7 1166.7 410C1171.4 404.3 1174.7 399.6 1178 396C1181.3 392.4 1183.9 390.3 1186.7 388.5C1189.5 386.7 1192.5 386.9 1195 385C1197.5 383.1 1199.5 379.9 1202 377C1204.5 374.1 1207 369.7 1210 367.5C1213 365.3 1216.7 366.6 1220 364C1223.3 361.4 1227.1 355.6 1230 352C1232.9 348.4 1235 344.5 1237.5 342.5C1240 340.5 1242.5 340.8 1245 340C1247.5 339.2 1248.3 339.3 1252.5 337.5C1256.7 335.7 1265.4 331.5 1270 329C1274.6 326.5 1275.8 324.7 1280 322.5C1284.2 320.3 1290.8 317.7 1295 316C1299.2 314.3 1300.8 313.5 1305 312.5C1309.2 311.5 1313.8 310.8 1320 310C1326.2 309.2 1333.3 308.2 1342.5 307.5C1351.7 306.8 1364.6 306.1 1375 305.5C1385.4 304.9 1394.2 304.6 1405 304C1415.8 303.4 1429.2 302.5 1440 302C1450.8 301.5 1463.3 300.8 1470 301C1476.7 301.2 1477.1 302.7 1480 303.5C1482.9 304.3 1484.2 306.2 1487.5 306C1490.8 305.8 1493.8 303.4 1500 302.5C1506.2 301.6 1516.7 301.9 1525 300.5C1533.3 299.1 1542.1 295.9 1550 294C1557.9 292.1 1566.8 290.7 1572.5 289C1578.2 287.3 1582.1 284.8 1584 284" class="b"/>
</g>
<path class="tk" d="M927 944 v16.1M1067.4 944 v16.1M1207.8 944 v16.1M1348.1 944 v16.1M1488.5 944 v16.1M1628.9 944 v16.1M927 944 h-16.1M927 799 h-16.1M927 654 h-16.1M927 509 h-16.1M927 364 h-16.1M927 219 h-16.1M927 74 h-16.1"/>
<rect class="sp" x="927" y="1.5" width="701.9" height="942.5"/>
<text x="47.5" y="958.8" font-size="39.5" text-anchor="start" textLength="50" lengthAdjust="spacingAndGlyphs">0.4</text>
<text x="47.5" y="813.8" font-size="39.5" text-anchor="start" textLength="50" lengthAdjust="spacingAndGlyphs">0.6</text>
<text x="47.5" y="668.8" font-size="39.5" text-anchor="start" textLength="50" lengthAdjust="spacingAndGlyphs">0.8</text>
<text x="47.5" y="523.8" font-size="39.5" text-anchor="start" textLength="50" lengthAdjust="spacingAndGlyphs">1.0</text>
<text x="47.5" y="378.8" font-size="39.5" text-anchor="start" textLength="50" lengthAdjust="spacingAndGlyphs">1.2</text>
<text x="47.5" y="233.8" font-size="39.5" text-anchor="start" textLength="50" lengthAdjust="spacingAndGlyphs">1.4</text>
<text x="47.5" y="88.8" font-size="39.5" text-anchor="start" textLength="50" lengthAdjust="spacingAndGlyphs">1.6</text>
<text x="102.2" y="1001.8" font-size="39.5" text-anchor="start" textLength="50" lengthAdjust="spacingAndGlyphs">0.5</text>
<text x="242.6" y="1001.8" font-size="39.5" text-anchor="start" textLength="50" lengthAdjust="spacingAndGlyphs">1.0</text>
<text x="383" y="1001.8" font-size="39.5" text-anchor="start" textLength="50" lengthAdjust="spacingAndGlyphs">1.5</text>
<text x="523.4" y="1001.8" font-size="39.5" text-anchor="start" textLength="50" lengthAdjust="spacingAndGlyphs">2.0</text>
<text x="663.8" y="1001.8" font-size="39.5" text-anchor="start" textLength="50" lengthAdjust="spacingAndGlyphs">2.5</text>
<text x="804.2" y="1001.8" font-size="39.5" text-anchor="start" textLength="50" lengthAdjust="spacingAndGlyphs">3.0</text>
<text x="900" y="1001.8" font-size="39.5" text-anchor="start" textLength="50" lengthAdjust="spacingAndGlyphs">0.5</text>
<text x="1040.4" y="1001.8" font-size="39.5" text-anchor="start" textLength="50" lengthAdjust="spacingAndGlyphs">1.0</text>
<text x="1180.8" y="1001.8" font-size="39.5" text-anchor="start" textLength="50" lengthAdjust="spacingAndGlyphs">1.5</text>
<text x="1321.1" y="1001.8" font-size="39.5" text-anchor="start" textLength="50" lengthAdjust="spacingAndGlyphs">2.0</text>
<text x="1461.5" y="1001.8" font-size="39.5" text-anchor="start" textLength="50" lengthAdjust="spacingAndGlyphs">2.5</text>
<text x="1601.9" y="1001.8" font-size="39.5" text-anchor="start" textLength="50" lengthAdjust="spacingAndGlyphs">3.0</text>
<text x="388.5" y="1047.5" font-size="41" textLength="163" lengthAdjust="spacingAndGlyphs">log<tspan font-size="28" dy="6.5">10</tspan><tspan dy="-6.5"> scale</tspan></text>
<text x="1186" y="1047.5" font-size="41" textLength="163" lengthAdjust="spacingAndGlyphs">log<tspan font-size="28" dy="6.5">10</tspan><tspan dy="-6.5"> scale</tspan></text>
<text transform="translate(25.8 574) rotate(-90)" font-size="36" textLength="186" lengthAdjust="spacingAndGlyphs"><tspan font-style="italic">α</tspan> spectrum</text>
<text x="297" y="67" font-size="54.5" text-anchor="start" textLength="127" lengthAdjust="spacingAndGlyphs">EGCs</text>
<text x="1039.5" y="67.2" font-size="53" text-anchor="start" textLength="229.5" lengthAdjust="spacingAndGlyphs">hiPSC-CM</text>
<text x="1038.5" y="102.7" font-size="53" text-anchor="start" textLength="221" lengthAdjust="spacingAndGlyphs">aggregates</text>
<rect x="605" y="22" width="206" height="124.5" rx="8" ry="8" fill="#fff" fill-opacity="0.8" stroke="#cccccc" stroke-opacity="0.8" stroke-width="4.2"/>
<path d="M620.7 52.2h81.4" class="b"/>
<path d="M620.7 108.8h81.4" class="r"/>
<text x="735" y="67.1" font-size="43" text-anchor="start" textLength="56" lengthAdjust="spacingAndGlyphs">RR</text>
<text x="735" y="123.6" font-size="43" text-anchor="start" textLength="56.5" lengthAdjust="spacingAndGlyphs">QT</text>
<rect x="1379.2" y="22" width="229.8" height="124.5" rx="8" ry="8" fill="#fff" fill-opacity="0.8" stroke="#cccccc" stroke-opacity="0.8" stroke-width="4.2"/>
<path d="M1394.3 52.2h81.4" class="b"/>
<path d="M1394.3 108.8h81.4" class="r"/>
<text x="1508.5" y="67.1" font-size="43" text-anchor="start" textLength="53" lengthAdjust="spacingAndGlyphs">IBI</text>
<text x="1508.5" y="123.6" font-size="43" text-anchor="start" textLength="79" lengthAdjust="spacingAndGlyphs">FPD</text>
</svg></body></html>
